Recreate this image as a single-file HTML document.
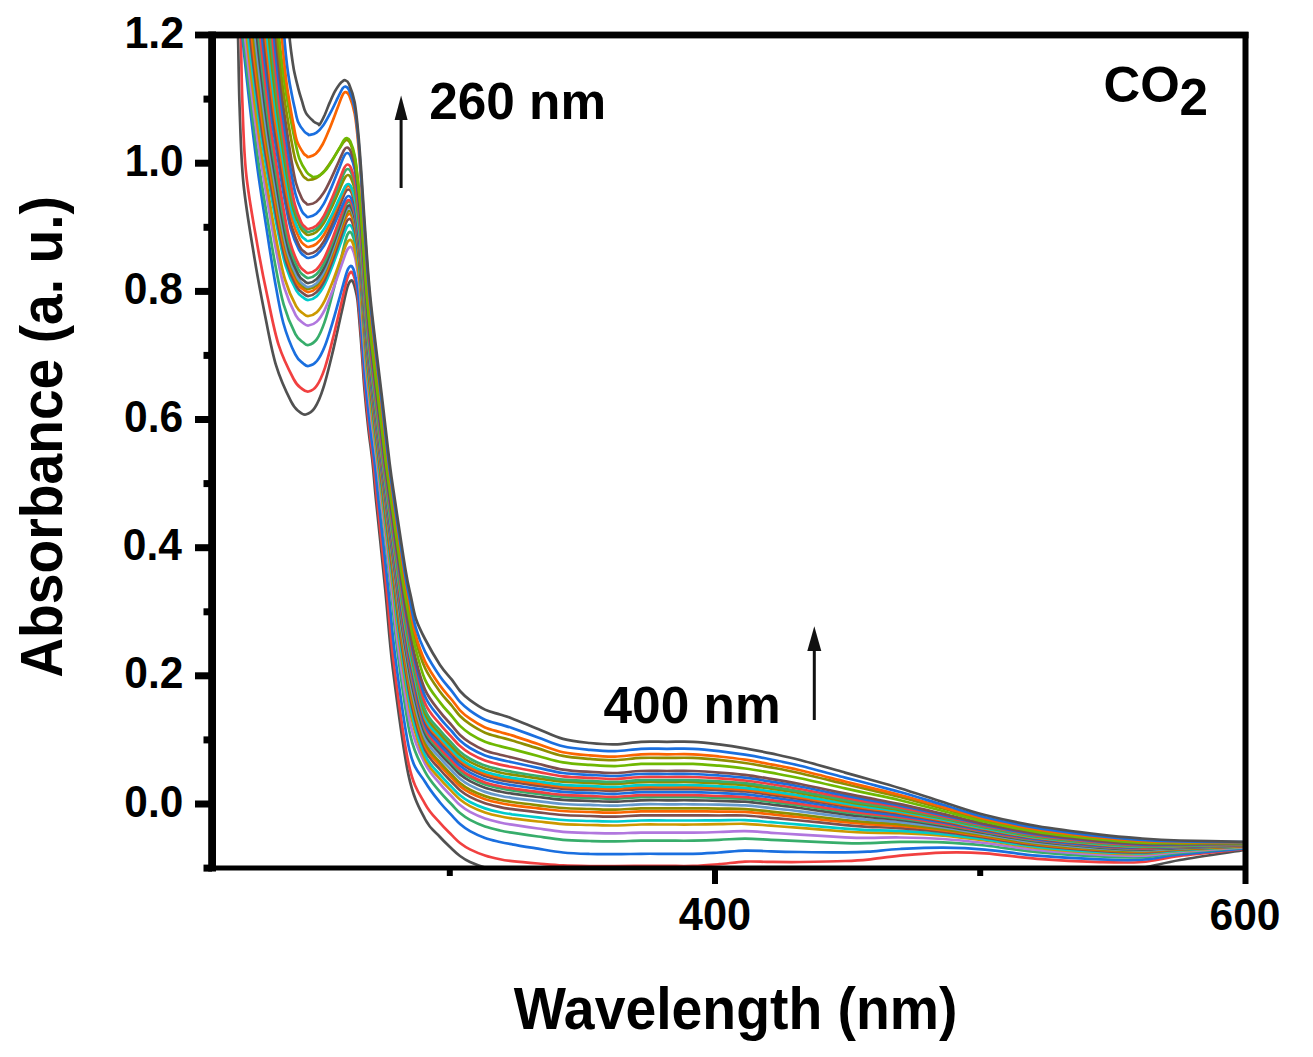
<!DOCTYPE html>
<html><head><meta charset="utf-8"><title>Absorbance</title>
<style>html,body{margin:0;padding:0;background:#fff;width:1313px;height:1057px;overflow:hidden}svg{display:block}</style>
</head><body>
<svg width="1313" height="1057" viewBox="0 0 1313 1057">
<defs><clipPath id="pc"><rect x="212.0" y="35.0" width="1033.5" height="833.0"/></clipPath></defs>
<g clip-path="url(#pc)" fill="none" stroke-width="2.7" stroke-linejoin="round">
<path d="M236.8,5.0 C237.0,10.0 237.5,18.0 238.0,35.0 C238.5,52.0 238.7,82.4 239.6,107.1 C240.5,131.8 240.9,157.7 243.4,183.0 C245.9,208.3 251.0,236.8 254.6,258.9 C258.2,281.0 261.6,298.1 265.1,315.8 C268.7,333.5 271.7,350.9 276.0,365.2 C280.3,379.4 287.0,393.5 290.9,401.2 C294.7,408.9 296.5,409.3 299.0,411.5 C301.5,413.7 303.2,415.1 305.8,414.5 C308.4,413.9 311.9,412.3 314.8,407.8 C317.8,403.3 320.5,396.9 323.4,387.7 C326.4,378.5 329.5,365.4 332.5,352.9 C335.5,340.4 339.0,323.6 341.5,312.7 C344.0,301.7 345.8,292.6 347.4,287.2 C349.0,281.8 350.0,281.2 351.0,280.5 C352.0,279.8 352.8,281.4 353.5,283.0 C354.2,284.6 354.8,287.2 355.5,290.0 C356.2,292.8 356.9,295.0 357.5,300.0 C358.1,305.0 358.7,312.5 359.3,320.0 C359.9,327.5 360.4,333.3 361.3,345.0 C362.2,356.7 363.3,375.8 364.5,390.0 C365.7,404.2 367.1,417.8 368.5,430.0 C369.9,442.2 371.4,451.3 372.6,463.0 C373.9,474.7 373.9,478.8 376.0,500.0 C378.1,521.2 382.5,561.7 385.3,590.0 C388.1,618.3 389.1,639.2 393.0,670.0 C396.9,700.8 403.1,749.8 408.4,774.6 C413.7,799.4 419.7,808.6 425.0,819.0 C430.3,829.4 435.5,832.0 440.0,837.0 C444.5,842.0 448.7,845.8 452.0,849.0 C455.3,852.2 457.0,853.8 460.0,856.0 C463.0,858.2 465.8,860.1 470.0,862.0 C474.2,863.9 480.0,866.0 485.0,867.5 C490.0,869.0 495.5,870.2 500.0,871.0 C504.5,871.8 505.7,872.1 512.0,872.5 C518.3,872.9 529.5,873.2 538.0,873.5 C546.5,873.8 554.3,873.9 563.0,874.0 C571.7,874.1 581.3,874.0 590.0,874.0 C598.7,874.0 606.5,874.0 615.0,874.0 C623.5,874.0 632.3,874.0 641.0,874.0 C649.7,874.0 658.3,874.0 667.0,874.0 C675.7,874.0 684.3,874.0 693.0,874.0 C701.7,874.0 710.3,874.0 719.0,874.0 C727.7,874.0 736.3,874.0 745.0,874.0 C753.7,874.0 761.8,874.0 771.0,874.0 C780.2,874.0 787.7,874.0 800.0,874.0 C812.3,874.0 833.7,874.0 845.0,874.0 C856.3,874.0 858.8,874.0 868.0,874.0 C877.2,874.0 887.5,874.0 900.0,874.0 C912.5,874.0 928.8,874.0 943.0,874.0 C957.2,874.0 969.3,874.0 985.0,874.0 C1000.7,874.0 1017.8,874.0 1037.0,874.0 C1056.2,874.0 1082.5,875.0 1100.0,874.0 C1117.5,873.0 1128.7,870.3 1142.0,868.0 C1155.3,865.7 1162.8,863.0 1180.0,860.0 C1197.2,857.0 1234.2,851.7 1245.0,850.0" stroke="#515151"/>
<path d="M239.6,5.0 C239.8,10.0 240.3,18.7 240.8,35.0 C241.3,51.3 241.5,79.6 242.4,102.7 C243.3,125.9 243.7,150.3 246.2,174.0 C248.7,197.8 253.8,224.5 257.4,245.3 C261.0,266.1 264.3,282.2 267.9,298.8 C271.4,315.4 274.4,331.8 278.7,345.2 C283.0,358.5 289.8,371.8 293.6,379.0 C297.4,386.3 299.2,386.6 301.7,388.6 C304.2,390.7 306.0,392.0 308.5,391.5 C311.0,391.0 314.2,389.5 316.9,385.5 C319.7,381.5 322.2,375.8 325.0,367.6 C327.7,359.4 330.6,347.7 333.4,336.5 C336.2,325.4 339.6,310.4 341.9,300.7 C344.2,290.9 345.9,282.8 347.4,278.0 C348.8,273.2 349.8,272.6 350.7,272.0 C351.7,271.4 352.5,272.9 353.3,274.6 C354.1,276.2 354.8,279.0 355.5,282.0 C356.2,285.1 356.9,287.8 357.5,293.0 C358.2,298.2 358.7,305.3 359.4,313.1 C360.1,320.9 360.6,327.5 361.5,339.6 C362.4,351.6 363.5,370.6 364.8,385.4 C366.1,400.2 367.8,415.5 369.2,428.4 C370.7,441.4 372.2,451.1 373.5,463.0 C374.8,474.9 374.9,479.0 377.1,500.0 C379.2,521.0 383.6,561.3 386.5,588.9 C389.3,616.5 390.3,636.3 394.1,665.7 C397.8,695.0 403.7,742.1 408.9,765.1 C414.0,788.1 419.8,794.1 425.0,803.8 C430.2,813.4 435.5,817.7 440.0,822.9 C444.5,828.2 448.7,832.0 452.0,835.4 C455.3,838.7 457.0,840.6 460.0,843.0 C463.0,845.3 465.8,847.3 470.0,849.4 C474.2,851.5 480.0,853.9 485.0,855.5 C490.0,857.2 495.5,858.3 500.0,859.2 C504.5,860.2 505.7,860.4 512.0,861.1 C518.3,861.8 529.5,862.8 538.0,863.5 C546.5,864.2 554.3,865.0 563.0,865.4 C571.7,865.8 581.3,865.9 590.0,866.0 C598.7,866.1 606.5,866.1 615.0,866.1 C623.5,866.1 632.3,865.9 641.0,865.9 C649.7,865.9 658.3,865.9 667.0,865.9 C675.7,865.9 684.3,866.2 693.0,865.9 C701.7,865.6 710.3,864.9 719.0,864.2 C727.7,863.5 736.3,862.0 745.0,861.6 C753.7,861.2 761.8,861.9 771.0,861.9 C780.2,862.0 787.7,862.1 800.0,862.0 C812.3,861.8 833.7,861.4 845.0,861.0 C856.3,860.6 858.8,860.5 868.0,859.6 C877.2,858.7 887.5,856.8 900.0,855.6 C912.5,854.5 928.8,853.0 943.0,852.6 C957.2,852.2 969.3,852.3 985.0,853.3 C1000.7,854.3 1017.8,857.4 1037.0,858.9 C1056.2,860.3 1082.5,861.6 1100.0,862.1 C1117.5,862.6 1128.7,863.0 1142.0,862.0 C1155.3,861.0 1162.8,858.1 1180.0,856.0 C1197.2,853.8 1234.2,850.2 1245.0,849.0" stroke="#F14040"/>
<path d="M241.1,5.0 C241.3,10.0 241.0,19.5 242.3,35.0 C243.6,50.5 246.5,76.4 248.9,97.9 C251.3,119.4 253.9,142.0 256.9,164.1 C259.8,186.2 263.8,211.0 266.8,230.3 C269.8,249.6 272.0,264.5 274.7,279.9 C277.5,295.4 279.9,310.6 283.3,323.0 C286.8,335.4 291.9,347.7 295.3,354.4 C298.6,361.1 301.0,361.4 303.2,363.4 C305.4,365.3 306.2,366.4 308.5,366.0 C310.8,365.6 314.2,364.3 316.9,361.0 C319.6,357.7 322.2,352.8 324.9,346.0 C327.6,339.2 330.5,329.3 333.3,320.0 C336.1,310.7 339.4,298.2 341.7,290.0 C344.0,281.8 345.7,275.0 347.2,271.0 C348.7,267.0 349.6,266.4 350.6,266.0 C351.6,265.6 352.4,266.8 353.2,268.6 C354.0,270.3 354.7,273.2 355.4,276.4 C356.2,279.7 356.9,283.1 357.6,288.1 C358.3,293.1 358.8,298.7 359.5,306.3 C360.2,313.9 360.8,321.5 361.7,333.8 C362.7,346.1 363.8,364.7 365.2,380.2 C366.6,395.6 368.5,412.7 370.1,426.5 C371.7,440.3 373.3,450.8 374.7,463.0 C376.1,475.2 376.2,479.3 378.5,500.0 C380.7,520.7 385.3,560.8 388.1,587.4 C391.0,613.9 392.0,632.1 395.6,659.4 C399.2,686.6 404.7,730.4 409.6,750.8 C414.5,771.2 419.9,773.1 425.0,781.7 C430.1,790.3 435.5,796.8 440.0,802.5 C444.5,808.1 448.7,812.0 452.0,815.6 C455.3,819.1 457.0,821.4 460.0,824.0 C463.0,826.6 465.8,828.7 470.0,831.1 C474.2,833.4 480.0,836.2 485.0,838.0 C490.0,839.8 495.5,840.9 500.0,842.0 C504.5,843.0 505.7,843.2 512.0,844.3 C518.3,845.5 529.5,847.3 538.0,848.7 C546.5,850.1 554.3,851.7 563.0,852.5 C571.7,853.4 581.3,853.7 590.0,854.0 C598.7,854.3 606.5,854.2 615.0,854.2 C623.5,854.2 632.3,853.9 641.0,853.8 C649.7,853.7 658.3,853.8 667.0,853.8 C675.7,853.8 684.3,854.0 693.0,853.8 C701.7,853.6 710.3,853.0 719.0,852.5 C727.7,852.0 736.3,850.8 745.0,850.6 C753.7,850.4 761.8,851.1 771.0,851.3 C780.2,851.6 787.7,851.8 800.0,852.0 C812.3,852.2 833.7,852.5 845.0,852.4 C856.3,852.4 858.8,852.3 868.0,851.7 C877.2,851.1 887.5,849.7 900.0,849.0 C912.5,848.4 928.8,847.6 943.0,847.7 C957.2,847.8 969.3,848.2 985.0,849.6 C1000.7,850.9 1017.8,854.0 1037.0,855.7 C1056.2,857.3 1082.5,858.8 1100.0,859.4 C1117.5,860.1 1128.7,860.5 1142.0,859.7 C1155.3,858.9 1162.8,856.4 1180.0,854.5 C1197.2,852.6 1234.2,849.3 1245.0,848.3" stroke="#1A6FDF"/>
<path d="M241.9,5.0 C242.1,10.0 241.8,20.2 243.1,35.0 C244.4,49.8 247.3,73.8 249.7,93.9 C252.1,114.1 254.6,135.2 257.5,155.9 C260.4,176.6 264.4,199.8 267.3,217.9 C270.3,236.0 272.4,249.9 275.2,264.4 C277.9,278.9 280.3,293.1 283.7,304.7 C287.0,316.3 292.2,327.8 295.4,334.1 C298.7,340.5 301.1,340.7 303.3,342.5 C305.4,344.3 306.3,345.5 308.5,345.0 C310.7,344.5 314.0,343.1 316.7,339.4 C319.4,335.6 321.8,330.1 324.5,322.4 C327.2,314.7 330.0,303.6 332.7,293.0 C335.5,282.5 338.7,268.3 340.9,259.1 C343.2,249.9 344.8,242.2 346.3,237.7 C347.7,233.1 348.5,232.5 349.5,232.0 C350.6,231.5 351.4,232.7 352.4,234.8 C353.4,236.9 354.4,240.4 355.3,244.6 C356.2,248.8 357.0,253.5 357.7,260.2 C358.5,266.8 359.1,274.9 359.8,284.5 C360.6,294.1 361.3,304.1 362.3,318.0 C363.4,331.8 364.4,350.4 366.0,367.8 C367.6,385.2 370.1,406.7 371.9,422.6 C373.7,438.4 375.4,450.1 376.8,463.0 C378.3,475.9 378.5,479.6 380.7,500.0 C383.0,520.4 387.6,560.0 390.4,585.2 C393.2,610.5 394.2,626.6 397.5,651.7 C400.8,676.7 405.7,715.4 410.3,735.4 C414.9,755.4 420.1,762.2 425.0,771.6 C429.9,781.0 435.5,786.3 440.0,791.9 C444.5,797.4 448.7,801.3 452.0,804.8 C455.3,808.3 457.0,810.5 460.0,813.0 C463.0,815.5 465.8,817.6 470.0,819.9 C474.2,822.1 480.0,824.8 485.0,826.6 C490.0,828.3 495.5,829.5 500.0,830.5 C504.5,831.5 505.7,831.7 512.0,832.7 C518.3,833.7 529.5,835.3 538.0,836.5 C546.5,837.7 554.3,839.0 563.0,839.8 C571.7,840.5 581.3,840.7 590.0,841.0 C598.7,841.2 606.5,841.4 615.0,841.3 C623.5,841.3 632.3,840.8 641.0,840.7 C649.7,840.6 658.3,840.7 667.0,840.7 C675.7,840.7 684.3,840.8 693.0,840.7 C701.7,840.5 710.3,840.2 719.0,839.8 C727.7,839.5 736.3,838.6 745.0,838.6 C753.7,838.6 761.8,839.4 771.0,839.9 C780.2,840.3 787.7,840.7 800.0,841.2 C812.3,841.8 833.7,842.7 845.0,843.1 C856.3,843.4 858.8,843.4 868.0,843.2 C877.2,843.0 887.5,842.0 900.0,841.9 C912.5,841.8 928.8,841.7 943.0,842.3 C957.2,842.9 969.3,843.9 985.0,845.5 C1000.7,847.2 1017.8,850.3 1037.0,852.2 C1056.2,854.0 1082.5,855.7 1100.0,856.5 C1117.5,857.4 1128.7,857.8 1142.0,857.2 C1155.3,856.6 1162.8,854.4 1180.0,852.8 C1197.2,851.2 1234.2,848.4 1245.0,847.6" stroke="#37AD6B"/>
<path d="M243.6,5.0 C243.8,10.0 243.6,20.8 244.8,35.0 C246.1,49.2 248.9,71.3 251.2,90.2 C253.5,109.1 256.0,128.9 258.8,148.3 C261.7,167.7 265.5,189.4 268.4,206.4 C271.3,223.3 273.4,236.4 276.0,250.0 C278.7,263.5 281.0,276.8 284.3,287.7 C287.6,298.6 292.6,309.4 295.8,315.3 C298.9,321.2 301.3,321.5 303.4,323.2 C305.5,324.9 306.3,325.8 308.5,325.5 C310.7,325.2 314.1,324.2 316.8,321.6 C319.5,319.0 322.0,315.2 324.7,309.8 C327.4,304.4 330.2,296.7 333.0,289.4 C335.7,282.1 339.0,272.3 341.3,265.8 C343.6,259.4 345.2,254.1 346.7,250.9 C348.1,247.8 349.0,247.2 350.0,247.0 C351.0,246.8 351.9,247.8 352.7,249.7 C353.6,251.6 354.5,254.8 355.4,258.6 C356.2,262.4 356.9,267.3 357.7,272.5 C358.4,277.7 359.0,281.9 359.8,290.0 C360.5,298.0 361.2,307.6 362.2,320.8 C363.3,333.9 364.3,352.0 365.9,369.0 C367.5,385.9 370.1,406.9 371.9,422.6 C373.8,438.3 375.5,450.1 377.0,463.0 C378.6,475.9 378.8,479.7 381.2,500.0 C383.5,520.3 388.3,559.9 391.1,584.6 C394.0,609.2 395.1,624.6 398.4,648.1 C401.7,671.7 406.3,706.6 410.8,725.9 C415.2,745.1 420.1,753.9 425.0,763.6 C429.9,773.3 435.5,778.3 440.0,783.9 C444.5,789.4 448.7,793.3 452.0,796.8 C455.3,800.3 457.0,802.5 460.0,805.0 C463.0,807.5 465.8,809.6 470.0,811.9 C474.2,814.1 480.0,816.8 485.0,818.6 C490.0,820.3 495.5,821.5 500.0,822.5 C504.5,823.5 505.7,823.7 512.0,824.7 C518.3,825.7 529.5,827.3 538.0,828.5 C546.5,829.7 554.3,831.0 563.0,831.8 C571.7,832.5 581.3,832.7 590.0,833.0 C598.7,833.2 606.5,833.5 615.0,833.4 C623.5,833.3 632.3,832.7 641.0,832.6 C649.7,832.5 658.3,832.6 667.0,832.6 C675.7,832.6 684.3,832.7 693.0,832.6 C701.7,832.5 710.3,832.3 719.0,832.0 C727.7,831.8 736.3,831.1 745.0,831.2 C753.7,831.3 761.8,832.2 771.0,832.8 C780.2,833.4 787.7,833.8 800.0,834.6 C812.3,835.3 833.7,836.7 845.0,837.3 C856.3,837.9 858.8,837.9 868.0,837.9 C877.2,838.0 887.5,837.3 900.0,837.5 C912.5,837.7 928.8,838.1 943.0,839.0 C957.2,839.9 969.3,841.2 985.0,843.0 C1000.7,844.9 1017.8,848.1 1037.0,850.0 C1056.2,852.0 1082.5,853.8 1100.0,854.7 C1117.5,855.7 1128.7,856.2 1142.0,855.7 C1155.3,855.2 1162.8,853.3 1180.0,851.8 C1197.2,850.4 1234.2,847.9 1245.0,847.1" stroke="#B177DE"/>
<path d="M245.3,5.0 C245.5,10.0 245.3,21.1 246.5,35.0 C247.8,48.9 250.5,70.1 252.7,88.4 C255.0,106.7 257.4,125.9 260.2,144.6 C263.0,163.3 266.7,184.4 269.5,200.8 C272.3,217.2 274.3,229.8 276.9,242.9 C279.5,256.1 281.8,268.9 285.0,279.5 C288.2,290.0 293.0,300.5 296.1,306.2 C299.2,311.9 301.5,312.1 303.5,313.8 C305.6,315.4 306.3,316.3 308.5,316.0 C310.7,315.7 314.1,314.7 316.8,312.2 C319.4,309.7 321.9,306.0 324.6,300.8 C327.3,295.6 330.1,288.1 332.9,281.0 C335.6,273.9 338.8,264.4 341.1,258.2 C343.4,252.0 345.0,246.8 346.5,243.8 C347.9,240.8 348.8,240.2 349.8,240.0 C350.8,239.8 351.7,240.7 352.6,242.7 C353.5,244.8 354.5,248.1 355.3,252.1 C356.2,256.1 357.0,261.5 357.7,266.8 C358.5,272.1 359.1,275.7 359.8,283.9 C360.6,292.0 361.4,302.4 362.4,315.9 C363.5,329.3 364.5,347.2 366.2,364.8 C367.9,382.3 370.6,404.7 372.6,421.1 C374.5,437.5 376.3,449.9 377.9,463.0 C379.5,476.1 379.8,479.9 382.2,500.0 C384.6,520.1 389.4,559.5 392.3,583.5 C395.2,607.5 396.3,621.7 399.5,643.8 C402.6,666.0 407.0,697.1 411.2,716.4 C415.5,735.6 420.2,748.7 425.0,759.2 C429.8,769.6 435.5,773.5 440.0,778.9 C444.5,784.3 448.7,788.1 452.0,791.6 C455.3,795.0 457.0,797.0 460.0,799.5 C463.0,801.9 465.8,804.0 470.0,806.1 C474.2,808.3 480.0,810.8 485.0,812.5 C490.0,814.2 495.5,815.4 500.0,816.3 C504.5,817.3 505.7,817.5 512.0,818.4 C518.3,819.2 529.5,820.5 538.0,821.5 C546.5,822.4 554.3,823.5 563.0,824.1 C571.7,824.6 581.3,824.7 590.0,825.0 C598.7,825.2 606.5,825.6 615.0,825.5 C623.5,825.4 632.3,824.7 641.0,824.5 C649.7,824.4 658.3,824.5 667.0,824.5 C675.7,824.5 684.3,824.6 693.0,824.5 C701.7,824.5 710.3,824.4 719.0,824.2 C727.7,824.1 736.3,823.6 745.0,823.8 C753.7,824.1 761.8,825.0 771.0,825.7 C780.2,826.4 787.7,827.0 800.0,827.9 C812.3,828.9 833.7,830.7 845.0,831.5 C856.3,832.3 858.8,832.4 868.0,832.7 C877.2,832.9 887.5,832.6 900.0,833.1 C912.5,833.6 928.8,834.5 943.0,835.7 C957.2,837.0 969.3,838.5 985.0,840.5 C1000.7,842.6 1017.8,845.8 1037.0,847.9 C1056.2,850.0 1082.5,851.9 1100.0,852.9 C1117.5,854.0 1128.7,854.5 1142.0,854.1 C1155.3,853.8 1162.8,852.1 1180.0,850.8 C1197.2,849.6 1234.2,847.3 1245.0,846.6" stroke="#CC9900"/>
<path d="M247.1,5.0 C247.2,10.0 247.0,21.6 248.2,35.0 C249.5,48.4 252.1,68.1 254.3,85.3 C256.5,102.6 258.8,120.7 261.5,138.4 C264.2,156.0 267.8,175.9 270.5,191.3 C273.3,206.8 275.3,218.7 277.8,231.1 C280.3,243.5 282.5,255.6 285.6,265.6 C288.7,275.5 293.4,285.3 296.4,290.7 C299.5,296.1 301.7,296.3 303.7,297.9 C305.7,299.4 306.3,300.3 308.5,300.0 C310.7,299.7 314.0,298.8 316.7,296.2 C319.3,293.8 321.8,290.1 324.4,285.0 C327.1,279.9 329.9,272.5 332.6,265.5 C335.3,258.5 338.5,249.1 340.8,243.0 C343.0,236.9 344.6,231.8 346.1,228.8 C347.5,225.8 348.3,225.2 349.3,225.0 C350.4,224.8 351.3,225.7 352.3,227.8 C353.2,230.0 354.4,233.6 355.3,238.0 C356.2,242.5 357.0,248.3 357.8,254.5 C358.6,260.6 359.2,265.6 360.0,274.8 C360.8,283.9 361.6,295.2 362.7,309.4 C363.8,323.6 364.8,341.5 366.5,359.8 C368.3,378.2 371.3,402.4 373.3,419.6 C375.3,436.8 377.1,449.6 378.7,463.0 C380.3,476.4 380.6,480.0 383.0,500.0 C385.4,520.0 390.2,559.2 393.1,582.7 C395.9,606.3 397.0,619.8 400.1,641.3 C403.1,662.8 407.3,692.7 411.5,711.6 C415.6,730.5 420.2,744.5 425.0,755.0 C429.8,765.5 435.5,769.3 440.0,774.7 C444.5,780.1 448.7,784.0 452.0,787.4 C455.3,790.9 457.0,792.9 460.0,795.3 C463.0,797.8 465.8,799.8 470.0,802.0 C474.2,804.2 480.0,806.7 485.0,808.4 C490.0,810.1 495.5,811.3 500.0,812.2 C504.5,813.2 505.7,813.4 512.0,814.3 C518.3,815.1 529.5,816.4 538.0,817.4 C546.5,818.4 554.3,819.5 563.0,820.0 C571.7,820.6 581.3,820.7 590.0,821.0 C598.7,821.2 606.5,821.6 615.0,821.5 C623.5,821.4 632.3,820.6 641.0,820.5 C649.7,820.3 658.3,820.5 667.0,820.5 C675.7,820.5 684.3,820.5 693.0,820.5 C701.7,820.5 710.3,820.4 719.0,820.3 C727.7,820.3 736.3,819.8 745.0,820.1 C753.7,820.4 761.8,821.4 771.0,822.2 C780.2,822.9 787.7,823.6 800.0,824.6 C812.3,825.7 833.7,827.8 845.0,828.7 C856.3,829.6 858.8,829.7 868.0,830.1 C877.2,830.4 887.5,830.3 900.0,830.9 C912.5,831.6 928.8,832.7 943.0,834.1 C957.2,835.5 969.3,837.2 985.0,839.3 C1000.7,841.4 1017.8,844.7 1037.0,846.8 C1056.2,849.0 1082.5,850.9 1100.0,852.0 C1117.5,853.1 1128.7,853.7 1142.0,853.4 C1155.3,853.1 1162.8,851.5 1180.0,850.3 C1197.2,849.2 1234.2,847.0 1245.0,846.4" stroke="#00CBCC"/>
<path d="M248.8,5.0 C249.0,10.0 248.8,21.7 250.0,35.0 C251.1,48.3 253.7,67.6 255.8,84.6 C258.0,101.6 260.2,119.4 262.8,136.8 C265.5,154.2 269.0,173.8 271.6,189.0 C274.3,204.2 276.2,216.0 278.6,228.1 C281.1,240.3 283.2,252.3 286.3,262.1 C289.3,271.9 293.9,281.6 296.8,286.9 C299.7,292.2 301.9,292.4 303.8,293.9 C305.8,295.4 306.4,296.3 308.5,296.0 C310.6,295.7 314.0,294.7 316.6,292.1 C319.3,289.6 321.7,285.9 324.4,280.6 C327.0,275.3 329.8,267.8 332.5,260.6 C335.2,253.4 338.4,243.8 340.6,237.5 C342.9,231.2 344.5,225.9 345.9,222.9 C347.3,219.8 348.1,219.2 349.2,219.0 C350.2,218.8 351.1,219.6 352.1,221.9 C353.1,224.1 354.3,227.8 355.3,232.4 C356.2,237.0 357.0,243.3 357.8,249.5 C358.6,255.8 359.2,260.7 360.1,270.1 C360.9,279.5 361.7,291.3 362.8,305.8 C363.9,320.2 364.9,338.0 366.8,356.8 C368.6,375.6 371.7,400.9 373.8,418.6 C375.9,436.3 377.6,449.4 379.3,463.0 C380.9,476.6 381.3,480.2 383.7,500.0 C386.1,519.8 391.0,559.0 393.8,582.1 C396.7,605.1 397.8,618.0 400.8,638.6 C403.7,659.2 407.7,687.1 411.8,705.7 C415.8,724.2 420.3,739.1 425.0,749.8 C429.7,760.4 435.5,764.1 440.0,769.5 C444.5,775.0 448.7,778.8 452.0,782.2 C455.3,785.7 457.0,787.7 460.0,790.2 C463.0,792.6 465.8,794.7 470.0,796.9 C474.2,799.1 480.0,801.6 485.0,803.3 C490.0,805.0 495.5,806.1 500.0,807.1 C504.5,808.1 505.7,808.3 512.0,809.2 C518.3,810.0 529.5,811.4 538.0,812.3 C546.5,813.3 554.3,814.4 563.0,815.0 C571.7,815.6 581.3,815.7 590.0,816.0 C598.7,816.2 606.5,816.7 615.0,816.6 C623.5,816.5 632.3,815.6 641.0,815.4 C649.7,815.2 658.3,815.4 667.0,815.4 C675.7,815.4 684.3,815.4 693.0,815.4 C701.7,815.4 710.3,815.4 719.0,815.5 C727.7,815.5 736.3,815.1 745.0,815.5 C753.7,815.9 761.8,817.0 771.0,817.8 C780.2,818.6 787.7,819.3 800.0,820.5 C812.3,821.7 833.7,824.0 845.0,825.1 C856.3,826.1 858.8,826.3 868.0,826.8 C877.2,827.3 887.5,827.3 900.0,828.2 C912.5,829.1 928.8,830.4 943.0,832.0 C957.2,833.6 969.3,835.5 985.0,837.7 C1000.7,840.0 1017.8,843.3 1037.0,845.5 C1056.2,847.7 1082.5,849.8 1100.0,850.9 C1117.5,852.1 1128.7,852.6 1142.0,852.4 C1155.3,852.2 1162.8,850.7 1180.0,849.7 C1197.2,848.6 1234.2,846.7 1245.0,846.1" stroke="#7D4E4E"/>
<path d="M250.5,5.0 C250.7,10.0 250.5,21.9 251.7,35.0 C252.8,48.1 255.3,67.1 257.3,83.8 C259.4,100.5 261.6,118.1 264.2,135.2 C266.7,152.4 270.1,171.6 272.7,186.6 C275.3,201.6 277.1,213.2 279.5,225.2 C281.9,237.2 284.0,249.0 286.9,258.6 C289.8,268.2 294.3,277.8 297.1,283.0 C300.0,288.2 302.1,288.4 304.0,289.9 C305.8,291.4 306.4,292.3 308.5,292.0 C310.6,291.7 314.0,290.7 316.6,288.1 C319.2,285.5 321.7,281.7 324.3,276.4 C326.9,271.1 329.7,263.4 332.4,256.1 C335.1,248.8 338.3,239.1 340.5,232.7 C342.7,226.3 344.3,221.0 345.8,217.9 C347.2,214.8 348.0,214.2 349.0,214.0 C350.0,213.8 351.0,214.6 352.0,216.9 C353.0,219.2 354.3,223.0 355.2,227.8 C356.2,232.5 357.0,239.0 357.8,245.4 C358.6,251.8 359.3,256.7 360.1,266.2 C361.0,275.8 361.8,288.1 362.9,302.8 C364.0,317.5 365.0,335.2 366.9,354.3 C368.8,373.5 372.0,399.6 374.1,417.7 C376.3,435.8 378.1,449.3 379.8,463.0 C381.5,476.7 381.8,480.3 384.2,500.0 C386.7,519.7 391.6,558.8 394.4,581.5 C397.3,604.2 398.4,616.5 401.3,636.4 C404.2,656.3 408.0,682.7 412.0,700.9 C416.0,719.1 420.3,734.8 425.0,745.6 C429.7,756.3 435.5,760.0 440.0,765.4 C444.5,770.8 448.7,774.7 452.0,778.1 C455.3,781.6 457.0,783.6 460.0,786.1 C463.0,788.5 465.8,790.6 470.0,792.8 C474.2,795.0 480.0,797.5 485.0,799.2 C490.0,800.9 495.5,802.1 500.0,803.0 C504.5,804.0 505.7,804.2 512.0,805.1 C518.3,806.0 529.5,807.3 538.0,808.3 C546.5,809.3 554.3,810.4 563.0,811.0 C571.7,811.6 581.3,811.7 590.0,812.0 C598.7,812.2 606.5,812.7 615.0,812.6 C623.5,812.5 632.3,811.6 641.0,811.4 C649.7,811.2 658.3,811.4 667.0,811.4 C675.7,811.4 684.3,811.4 693.0,811.4 C701.7,811.4 710.3,811.5 719.0,811.6 C727.7,811.6 736.3,811.4 745.0,811.8 C753.7,812.3 761.8,813.4 771.0,814.2 C780.2,815.1 787.7,815.8 800.0,817.2 C812.3,818.5 833.7,821.0 845.0,822.2 C856.3,823.3 858.8,823.5 868.0,824.2 C877.2,824.8 887.5,825.0 900.0,826.0 C912.5,827.0 928.8,828.6 943.0,830.4 C957.2,832.1 969.3,834.1 985.0,836.5 C1000.7,838.8 1017.8,842.2 1037.0,844.4 C1056.2,846.7 1082.5,848.8 1100.0,850.0 C1117.5,851.2 1128.7,851.8 1142.0,851.7 C1155.3,851.5 1162.8,850.2 1180.0,849.2 C1197.2,848.2 1234.2,846.4 1245.0,845.9" stroke="#FB6501"/>
<path d="M252.2,5.0 C252.4,10.0 252.3,22.0 253.4,35.0 C254.5,48.0 256.9,66.7 258.9,83.3 C260.9,99.8 263.0,117.1 265.5,134.1 C268.0,151.0 271.3,170.0 273.8,184.9 C276.3,199.7 278.1,211.1 280.4,223.0 C282.7,234.8 284.7,246.5 287.6,256.0 C290.4,265.5 294.7,274.9 297.5,280.1 C300.2,285.3 302.3,285.5 304.1,287.0 C305.9,288.4 306.4,289.3 308.5,289.0 C310.6,288.7 314.0,287.7 316.6,285.1 C319.2,282.5 321.6,278.7 324.3,273.4 C326.9,268.1 329.7,260.4 332.3,253.1 C335.0,245.8 338.2,236.1 340.4,229.7 C342.7,223.3 344.3,218.0 345.7,214.9 C347.1,211.8 347.9,211.2 348.9,211.0 C350.0,210.8 350.9,211.6 351.9,213.9 C353.0,216.2 354.2,220.1 355.2,224.9 C356.2,229.8 357.0,236.5 357.8,243.0 C358.7,249.4 359.3,254.1 360.2,263.8 C361.0,273.4 361.8,286.0 363.0,300.8 C364.1,315.7 365.1,333.3 367.0,352.6 C368.9,372.0 372.2,398.7 374.4,417.1 C376.6,435.5 378.4,449.2 380.1,463.0 C381.8,476.8 382.2,480.3 384.6,500.0 C387.1,519.7 392.0,558.6 394.9,581.1 C397.7,603.5 398.8,615.4 401.7,634.7 C404.6,654.1 408.3,679.4 412.2,697.3 C416.1,715.3 420.4,731.6 425.0,742.4 C429.6,753.3 435.5,756.9 440.0,762.3 C444.5,767.7 448.7,771.6 452.0,775.0 C455.3,778.5 457.0,780.5 460.0,783.0 C463.0,785.4 465.8,787.5 470.0,789.7 C474.2,791.9 480.0,794.4 485.0,796.1 C490.0,797.9 495.5,799.0 500.0,800.0 C504.5,800.9 505.7,801.1 512.0,802.0 C518.3,802.9 529.5,804.3 538.0,805.3 C546.5,806.3 554.3,807.4 563.0,808.0 C571.7,808.6 581.3,808.7 590.0,809.0 C598.7,809.2 606.5,809.7 615.0,809.6 C623.5,809.5 632.3,808.6 641.0,808.4 C649.7,808.1 658.3,808.4 667.0,808.4 C675.7,808.4 684.3,808.3 693.0,808.4 C701.7,808.4 710.3,808.5 719.0,808.6 C727.7,808.8 736.3,808.6 745.0,809.1 C753.7,809.6 761.8,810.7 771.0,811.6 C780.2,812.5 787.7,813.3 800.0,814.7 C812.3,816.1 833.7,818.8 845.0,820.0 C856.3,821.3 858.8,821.5 868.0,822.2 C877.2,822.9 887.5,823.2 900.0,824.3 C912.5,825.5 928.8,827.3 943.0,829.1 C957.2,831.0 969.3,833.1 985.0,835.5 C1000.7,838.0 1017.8,841.3 1037.0,843.6 C1056.2,845.9 1082.5,848.1 1100.0,849.4 C1117.5,850.6 1128.7,851.2 1142.0,851.1 C1155.3,851.0 1162.8,849.7 1180.0,848.8 C1197.2,847.9 1234.2,846.2 1245.0,845.7" stroke="#8E8E00"/>
<path d="M253.9,5.0 C254.1,10.0 254.0,22.0 255.1,35.0 C256.2,48.0 258.5,66.5 260.4,82.9 C262.4,99.3 264.4,116.5 266.8,133.3 C269.2,150.1 272.4,169.0 274.8,183.7 C277.3,198.4 279.0,209.7 281.3,221.5 C283.5,233.2 285.4,244.8 288.2,254.2 C291.0,263.7 295.1,273.1 297.8,278.2 C300.5,283.3 302.4,283.5 304.2,285.0 C306.0,286.5 306.4,287.3 308.5,287.0 C310.6,286.7 313.9,285.7 316.6,283.1 C319.2,280.4 321.6,276.6 324.2,271.2 C326.8,265.8 329.6,258.0 332.3,250.7 C335.0,243.3 338.1,233.4 340.4,227.0 C342.6,220.5 344.2,215.1 345.6,211.9 C347.0,208.8 347.8,208.2 348.8,208.0 C349.9,207.8 350.8,208.6 351.9,210.9 C352.9,213.3 354.2,217.2 355.2,222.1 C356.2,227.1 357.0,234.0 357.9,240.5 C358.7,247.0 359.3,251.3 360.2,261.0 C361.1,270.6 361.9,283.6 363.1,298.6 C364.2,313.5 365.2,331.0 367.2,350.7 C369.1,370.3 372.5,397.7 374.7,416.4 C377.0,435.2 378.8,449.1 380.5,463.0 C382.3,476.9 382.6,480.4 385.1,500.0 C387.6,519.6 392.6,558.5 395.4,580.6 C398.3,602.7 399.4,613.9 402.2,632.6 C405.0,651.3 408.6,675.0 412.4,692.6 C416.2,710.2 420.4,727.1 425.0,738.0 C429.6,748.9 435.5,752.5 440.0,757.9 C444.5,763.4 448.7,767.2 452.0,770.7 C455.3,774.1 457.0,776.2 460.0,778.7 C463.0,781.1 465.8,783.2 470.0,785.4 C474.2,787.6 480.0,790.2 485.0,791.9 C490.0,793.6 495.5,794.8 500.0,795.7 C504.5,796.7 505.7,796.9 512.0,797.8 C518.3,798.7 529.5,800.1 538.0,801.1 C546.5,802.2 554.3,803.3 563.0,804.0 C571.7,804.6 581.3,804.7 590.0,804.9 C598.7,805.2 606.5,805.8 615.0,805.7 C623.5,805.6 632.3,804.5 641.0,804.3 C649.7,804.1 658.3,804.3 667.0,804.3 C675.7,804.3 684.3,804.2 693.0,804.3 C701.7,804.4 710.3,804.6 719.0,804.7 C727.7,804.9 736.3,804.8 745.0,805.4 C753.7,805.9 761.8,807.1 771.0,808.1 C780.2,809.1 787.7,809.8 800.0,811.4 C812.3,812.9 833.7,815.8 845.0,817.1 C856.3,818.5 858.8,818.7 868.0,819.6 C877.2,820.4 887.5,820.8 900.0,822.2 C912.5,823.5 928.8,825.5 943.0,827.5 C957.2,829.5 969.3,831.8 985.0,834.3 C1000.7,836.8 1017.8,840.2 1037.0,842.6 C1056.2,844.9 1082.5,847.2 1100.0,848.5 C1117.5,849.8 1128.7,850.3 1142.0,850.3 C1155.3,850.3 1162.8,849.1 1180.0,848.3 C1197.2,847.5 1234.2,845.9 1245.0,845.4" stroke="#6699CC"/>
<path d="M255.6,5.0 C255.8,10.0 255.7,22.1 256.8,35.0 C257.9,47.9 260.1,66.0 262.0,82.1 C263.9,98.2 265.8,115.2 268.2,131.7 C270.5,148.3 273.6,166.9 275.9,181.3 C278.3,195.8 280.0,206.9 282.1,218.5 C284.3,230.1 286.2,241.5 288.9,250.8 C291.5,260.1 295.6,269.3 298.2,274.3 C300.7,279.4 302.6,279.6 304.4,281.0 C306.1,282.5 306.5,283.3 308.5,283.0 C310.5,282.7 313.9,281.7 316.6,279.1 C319.2,276.5 321.6,272.8 324.2,267.5 C326.8,262.2 329.6,254.6 332.2,247.3 C334.9,240.1 338.1,230.4 340.3,224.1 C342.5,217.8 344.1,212.5 345.5,209.4 C346.9,206.3 347.7,205.7 348.8,205.5 C349.8,205.3 350.7,206.1 351.8,208.4 C352.9,210.8 354.2,214.8 355.2,219.8 C356.2,224.8 357.0,232.0 357.9,238.4 C358.7,244.9 359.4,248.8 360.2,258.4 C361.1,268.1 362.0,281.4 363.2,296.5 C364.3,311.5 365.3,328.9 367.3,348.8 C369.3,368.7 372.8,396.7 375.0,415.8 C377.3,434.8 379.2,449.0 380.9,463.0 C382.7,477.0 383.1,480.5 385.6,500.0 C388.1,519.5 393.1,558.3 396.0,580.0 C398.9,601.8 400.0,612.5 402.7,630.5 C405.5,648.5 408.9,670.6 412.6,687.8 C416.3,705.0 420.4,722.6 425.0,733.6 C429.6,744.6 435.5,748.1 440.0,753.6 C444.5,759.0 448.7,762.9 452.0,766.3 C455.3,769.8 457.0,771.9 460.0,774.4 C463.0,776.8 465.8,778.9 470.0,781.1 C474.2,783.4 480.0,785.9 485.0,787.7 C490.0,789.4 495.5,790.5 500.0,791.5 C504.5,792.5 505.7,792.7 512.0,793.6 C518.3,794.5 529.5,796.0 538.0,797.0 C546.5,798.1 554.3,799.3 563.0,799.9 C571.7,800.6 581.3,800.6 590.0,800.9 C598.7,801.2 606.5,801.8 615.0,801.7 C623.5,801.6 632.3,800.5 641.0,800.3 C649.7,800.0 658.3,800.3 667.0,800.3 C675.7,800.3 684.3,800.2 693.0,800.3 C701.7,800.4 710.3,800.6 719.0,800.8 C727.7,801.1 736.3,801.1 745.0,801.7 C753.7,802.3 761.8,803.5 771.0,804.5 C780.2,805.6 787.7,806.4 800.0,808.0 C812.3,809.7 833.7,812.8 845.0,814.3 C856.3,815.8 858.8,816.0 868.0,817.0 C877.2,817.9 887.5,818.5 900.0,820.0 C912.5,821.4 928.8,823.7 943.0,825.8 C957.2,828.0 969.3,830.4 985.0,833.0 C1000.7,835.7 1017.8,839.1 1037.0,841.5 C1056.2,843.9 1082.5,846.2 1100.0,847.6 C1117.5,848.9 1128.7,849.5 1142.0,849.6 C1155.3,849.6 1162.8,848.5 1180.0,847.8 C1197.2,847.1 1234.2,845.6 1245.0,845.2" stroke="#515151"/>
<path d="M257.3,5.0 C257.5,10.0 257.5,22.3 258.5,35.0 C259.5,47.7 261.7,65.4 263.5,81.2 C265.3,97.0 267.2,113.6 269.5,129.8 C271.8,146.0 274.8,164.2 277.0,178.4 C279.2,192.5 280.9,203.5 283.0,214.8 C285.1,226.2 286.9,237.3 289.5,246.4 C292.1,255.5 296.0,264.6 298.5,269.5 C301.0,274.4 302.8,274.6 304.5,276.1 C306.2,277.5 306.5,278.3 308.5,278.0 C310.5,277.7 313.9,276.7 316.5,274.2 C319.1,271.7 321.5,268.0 324.2,262.8 C326.8,257.6 329.5,250.1 332.2,243.0 C334.9,235.9 338.0,226.4 340.2,220.2 C342.4,214.0 344.0,208.8 345.4,205.8 C346.8,202.8 347.6,202.1 348.6,202.0 C349.7,201.9 350.6,202.6 351.7,205.0 C352.8,207.4 354.2,211.4 355.2,216.5 C356.2,221.6 357.0,229.0 357.9,235.6 C358.7,242.1 359.4,245.9 360.3,255.7 C361.2,265.5 362.0,279.1 363.2,294.3 C364.4,309.5 365.4,326.9 367.4,347.0 C369.4,367.1 373.0,395.8 375.3,415.2 C377.6,434.5 379.5,448.9 381.3,463.0 C383.1,477.1 383.5,480.6 386.0,500.0 C388.5,519.4 393.6,558.1 396.4,579.6 C399.3,601.1 400.4,611.4 403.1,628.9 C405.9,646.3 409.2,667.4 412.8,684.3 C416.5,701.2 420.5,719.3 425.0,730.3 C429.5,741.3 435.5,744.8 440.0,750.3 C444.5,755.8 448.7,759.6 452.0,763.1 C455.3,766.6 457.0,768.7 460.0,771.1 C463.0,773.6 465.8,775.7 470.0,777.9 C474.2,780.2 480.0,782.8 485.0,784.5 C490.0,786.2 495.5,787.3 500.0,788.3 C504.5,789.3 505.7,789.5 512.0,790.5 C518.3,791.4 529.5,792.8 538.0,793.9 C546.5,795.0 554.3,796.2 563.0,796.9 C571.7,797.6 581.3,797.6 590.0,797.9 C598.7,798.3 606.5,798.9 615.0,798.8 C623.5,798.6 632.3,797.5 641.0,797.2 C649.7,797.0 658.3,797.2 667.0,797.2 C675.7,797.2 684.3,797.1 693.0,797.2 C701.7,797.4 710.3,797.6 719.0,797.9 C727.7,798.2 736.3,798.3 745.0,798.9 C753.7,799.6 761.8,800.8 771.0,801.9 C780.2,803.0 787.7,803.8 800.0,805.5 C812.3,807.3 833.7,810.5 845.0,812.1 C856.3,813.7 858.8,814.0 868.0,815.0 C877.2,816.0 887.5,816.7 900.0,818.3 C912.5,819.9 928.8,822.3 943.0,824.6 C957.2,826.9 969.3,829.4 985.0,832.1 C1000.7,834.8 1017.8,838.2 1037.0,840.7 C1056.2,843.1 1082.5,845.5 1100.0,846.9 C1117.5,848.3 1128.7,848.9 1142.0,849.0 C1155.3,849.1 1162.8,848.1 1180.0,847.4 C1197.2,846.8 1234.2,845.4 1245.0,845.0" stroke="#37AD6B"/>
<path d="M259.0,5.0 C259.2,10.0 259.2,22.5 260.2,35.0 C261.2,47.5 263.3,64.8 265.0,80.2 C266.8,95.7 268.7,112.0 270.8,127.8 C273.0,143.7 275.9,161.5 278.1,175.4 C280.2,189.3 281.9,200.0 283.9,211.1 C285.9,222.2 287.7,233.1 290.1,242.1 C292.6,251.0 296.4,259.8 298.8,264.7 C301.3,269.5 303.0,269.7 304.6,271.1 C306.2,272.5 306.5,273.3 308.5,273.0 C310.5,272.7 313.9,271.8 316.5,269.4 C319.1,266.9 321.5,263.4 324.1,258.4 C326.7,253.4 329.5,246.2 332.2,239.4 C334.8,232.6 338.0,223.5 340.2,217.5 C342.4,211.6 344.0,206.6 345.4,203.7 C346.8,200.7 347.5,200.1 348.6,200.0 C349.6,199.9 350.6,200.5 351.7,203.0 C352.8,205.4 354.1,209.5 355.2,214.6 C356.2,219.8 357.0,227.4 357.9,233.9 C358.8,240.5 359.4,244.2 360.3,254.0 C361.2,263.9 362.1,277.7 363.3,293.0 C364.5,308.3 365.5,325.6 367.5,345.9 C369.5,366.2 373.2,395.2 375.5,414.8 C377.8,434.3 379.7,448.8 381.5,463.0 C383.3,477.2 383.7,480.6 386.3,500.0 C388.8,519.4 393.9,558.0 396.7,579.3 C399.6,600.6 400.7,610.7 403.4,627.8 C406.1,644.9 409.3,665.2 412.9,681.9 C416.5,698.6 420.5,717.0 425.0,728.0 C429.5,739.1 435.5,742.6 440.0,748.1 C444.5,753.6 448.7,757.4 452.0,760.9 C455.3,764.4 457.0,766.5 460.0,769.0 C463.0,771.5 465.8,773.6 470.0,775.8 C474.2,778.0 480.0,780.6 485.0,782.4 C490.0,784.1 495.5,785.2 500.0,786.2 C504.5,787.2 505.7,787.4 512.0,788.3 C518.3,789.3 529.5,790.8 538.0,791.9 C546.5,792.9 554.3,794.2 563.0,794.9 C571.7,795.5 581.3,795.6 590.0,795.9 C598.7,796.3 606.5,796.9 615.0,796.8 C623.5,796.7 632.3,795.5 641.0,795.2 C649.7,795.0 658.3,795.2 667.0,795.2 C675.7,795.2 684.3,795.1 693.0,795.2 C701.7,795.3 710.3,795.7 719.0,796.0 C727.7,796.3 736.3,796.4 745.0,797.1 C753.7,797.8 761.8,799.0 771.0,800.1 C780.2,801.3 787.7,802.1 800.0,803.9 C812.3,805.6 833.7,809.0 845.0,810.7 C856.3,812.3 858.8,812.6 868.0,813.7 C877.2,814.8 887.5,815.5 900.0,817.2 C912.5,818.9 928.8,821.4 943.0,823.8 C957.2,826.2 969.3,828.8 985.0,831.5 C1000.7,834.2 1017.8,837.7 1037.0,840.1 C1056.2,842.6 1082.5,845.0 1100.0,846.4 C1117.5,847.9 1128.7,848.5 1142.0,848.6 C1155.3,848.7 1162.8,847.8 1180.0,847.2 C1197.2,846.6 1234.2,845.3 1245.0,844.9" stroke="#F14040"/>
<path d="M260.7,5.0 C260.9,10.0 260.9,22.9 261.9,35.0 C262.9,47.1 264.9,62.9 266.6,77.4 C268.3,91.9 270.1,107.1 272.2,122.0 C274.3,136.8 277.1,153.6 279.2,166.6 C281.2,179.6 282.8,189.6 284.7,200.0 C286.7,210.4 288.4,220.6 290.8,229.0 C293.2,237.4 296.9,245.7 299.2,250.2 C301.5,254.7 303.2,254.9 304.8,256.2 C306.3,257.5 306.5,258.2 308.5,258.0 C310.5,257.8 313.9,257.0 316.5,254.9 C319.1,252.8 321.5,249.8 324.1,245.6 C326.7,241.4 329.4,235.3 332.1,229.5 C334.7,223.7 337.9,215.9 340.1,210.9 C342.3,205.8 343.9,201.6 345.3,199.1 C346.7,196.6 347.4,196.0 348.5,196.0 C349.5,196.0 350.5,196.5 351.6,199.0 C352.7,201.5 354.1,205.6 355.2,210.9 C356.2,216.2 357.1,224.0 357.9,230.7 C358.8,237.3 359.4,241.0 360.3,251.0 C361.3,261.0 362.2,275.2 363.4,290.7 C364.6,306.2 365.5,323.4 367.6,344.0 C369.7,364.5 373.4,394.3 375.8,414.1 C378.2,434.0 380.1,448.7 381.9,463.0 C383.7,477.3 384.1,480.7 386.7,500.0 C389.2,519.3 394.3,557.9 397.2,578.9 C400.0,599.9 401.2,609.6 403.8,626.1 C406.5,642.7 409.6,661.9 413.1,678.3 C416.6,694.7 420.5,713.6 425.0,724.7 C429.5,735.8 435.5,739.3 440.0,744.8 C444.5,750.3 448.7,754.2 452.0,757.6 C455.3,761.1 457.0,763.3 460.0,765.8 C463.0,768.2 465.8,770.3 470.0,772.6 C474.2,774.8 480.0,777.4 485.0,779.2 C490.0,780.9 495.5,782.0 500.0,783.0 C504.5,784.0 505.7,784.2 512.0,785.2 C518.3,786.1 529.5,787.7 538.0,788.8 C546.5,789.9 554.3,791.1 563.0,791.8 C571.7,792.5 581.3,792.6 590.0,792.9 C598.7,793.3 606.5,793.9 615.0,793.8 C623.5,793.7 632.3,792.5 641.0,792.2 C649.7,791.9 658.3,792.2 667.0,792.2 C675.7,792.2 684.3,792.1 693.0,792.2 C701.7,792.3 710.3,792.7 719.0,793.0 C727.7,793.4 736.3,793.6 745.0,794.3 C753.7,795.0 761.8,796.3 771.0,797.5 C780.2,798.6 787.7,799.6 800.0,801.4 C812.3,803.2 833.7,806.8 845.0,808.5 C856.3,810.2 858.8,810.5 868.0,811.7 C877.2,812.9 887.5,813.8 900.0,815.6 C912.5,817.4 928.8,820.0 943.0,822.5 C957.2,825.0 969.3,827.8 985.0,830.6 C1000.7,833.4 1017.8,836.8 1037.0,839.3 C1056.2,841.9 1082.5,844.3 1100.0,845.8 C1117.5,847.2 1128.7,847.9 1142.0,848.0 C1155.3,848.2 1162.8,847.3 1180.0,846.8 C1197.2,846.2 1234.2,845.1 1245.0,844.7" stroke="#1A6FDF"/>
<path d="M262.4,5.0 C262.6,10.0 262.7,23.1 263.6,35.0 C264.6,46.9 266.5,62.4 268.1,76.6 C269.8,90.8 271.5,105.8 273.5,120.4 C275.5,135.0 278.2,151.4 280.2,164.2 C282.2,177.0 283.7,186.8 285.6,197.1 C287.5,207.3 289.1,217.3 291.4,225.5 C293.8,233.7 297.3,241.9 299.5,246.3 C301.8,250.8 303.4,251.0 304.9,252.2 C306.4,253.5 306.6,254.2 308.5,254.0 C310.4,253.8 313.9,252.9 316.5,250.8 C319.0,248.6 321.4,245.5 324.0,241.1 C326.6,236.7 329.3,230.3 332.0,224.3 C334.6,218.3 337.7,210.2 339.9,205.0 C342.1,199.7 343.7,195.3 345.1,192.7 C346.5,190.1 347.2,189.5 348.3,189.5 C349.3,189.5 350.3,190.0 351.5,192.5 C352.6,195.1 354.1,199.4 355.1,204.8 C356.2,210.3 357.1,218.3 358.0,225.3 C358.8,232.3 359.5,236.3 360.4,246.7 C361.3,257.1 362.3,271.7 363.5,287.5 C364.7,303.3 365.7,320.5 367.8,341.4 C369.9,362.4 373.8,393.0 376.2,413.3 C378.6,433.6 380.5,448.6 382.4,463.0 C384.2,477.4 384.6,480.8 387.2,500.0 C389.7,519.2 394.8,557.7 397.7,578.5 C400.5,599.2 401.6,608.3 404.2,624.4 C406.8,640.4 409.8,658.6 413.3,674.7 C416.7,690.9 420.5,710.2 425.0,721.4 C429.5,732.5 435.5,736.0 440.0,741.5 C444.5,747.0 448.7,750.9 452.0,754.4 C455.3,757.9 457.0,760.0 460.0,762.5 C463.0,765.0 465.8,767.1 470.0,769.4 C474.2,771.6 480.0,774.2 485.0,776.0 C490.0,777.7 495.5,778.9 500.0,779.9 C504.5,780.9 505.7,781.1 512.0,782.0 C518.3,783.0 529.5,784.5 538.0,785.7 C546.5,786.8 554.3,788.1 563.0,788.8 C571.7,789.5 581.3,789.6 590.0,789.9 C598.7,790.3 606.5,791.0 615.0,790.8 C623.5,790.7 632.3,789.4 641.0,789.2 C649.7,788.9 658.3,789.2 667.0,789.2 C675.7,789.2 684.3,789.0 693.0,789.2 C701.7,789.3 710.3,789.7 719.0,790.1 C727.7,790.5 736.3,790.8 745.0,791.5 C753.7,792.3 761.8,793.6 771.0,794.8 C780.2,796.0 787.7,797.0 800.0,798.9 C812.3,800.8 833.7,804.5 845.0,806.4 C856.3,808.2 858.8,808.5 868.0,809.7 C877.2,811.0 887.5,812.0 900.0,813.9 C912.5,815.9 928.8,818.7 943.0,821.3 C957.2,823.9 969.3,826.7 985.0,829.6 C1000.7,832.5 1017.8,836.0 1037.0,838.5 C1056.2,841.1 1082.5,843.6 1100.0,845.1 C1117.5,846.6 1128.7,847.2 1142.0,847.5 C1155.3,847.7 1162.8,846.9 1180.0,846.4 C1197.2,845.9 1234.2,844.9 1245.0,844.6" stroke="#7D4E4E"/>
<path d="M264.1,5.0 C264.3,10.0 264.4,23.3 265.3,35.0 C266.3,46.7 268.1,61.5 269.6,75.3 C271.2,89.1 272.9,103.5 274.8,117.7 C276.8,131.8 279.4,147.7 281.3,160.1 C283.2,172.4 284.7,182.0 286.5,191.9 C288.3,201.8 289.9,211.5 292.1,219.4 C294.3,227.4 297.7,235.3 299.9,239.6 C302.0,243.9 303.6,244.1 305.0,245.3 C306.5,246.5 306.6,247.2 308.5,247.0 C310.4,246.8 313.9,246.0 316.4,243.9 C319.0,241.9 321.4,239.0 324.0,234.8 C326.5,230.6 329.3,224.6 331.9,218.9 C334.5,213.2 337.7,205.6 339.8,200.6 C342.0,195.7 343.6,191.5 345.0,189.1 C346.4,186.6 347.1,186.0 348.2,186.0 C349.2,186.0 350.2,186.5 351.4,189.1 C352.5,191.7 354.0,196.0 355.1,201.5 C356.2,207.1 357.1,215.3 358.0,222.4 C358.9,229.6 359.5,233.7 360.4,244.2 C361.4,254.8 362.3,269.7 363.6,285.7 C364.8,301.6 365.8,318.8 367.9,340.0 C370.0,361.1 374.0,392.3 376.4,412.8 C378.9,433.3 380.8,448.5 382.6,463.0 C384.5,477.5 384.9,480.8 387.5,500.0 C390.0,519.2 395.2,557.6 398.0,578.2 C400.9,598.7 402.0,607.6 404.5,623.3 C407.1,639.0 410.0,656.4 413.4,672.4 C416.8,688.4 420.6,708.0 425.0,719.2 C429.4,730.3 435.5,733.8 440.0,739.4 C444.5,744.9 448.7,748.7 452.0,752.2 C455.3,755.7 457.0,757.9 460.0,760.4 C463.0,762.9 465.8,765.0 470.0,767.2 C474.2,769.5 480.0,772.1 485.0,773.9 C490.0,775.6 495.5,776.7 500.0,777.8 C504.5,778.8 505.7,779.0 512.0,779.9 C518.3,780.9 529.5,782.5 538.0,783.6 C546.5,784.7 554.3,786.1 563.0,786.8 C571.7,787.5 581.3,787.6 590.0,787.9 C598.7,788.3 606.5,789.0 615.0,788.9 C623.5,788.7 632.3,787.4 641.0,787.1 C649.7,786.9 658.3,787.1 667.0,787.1 C675.7,787.1 684.3,787.0 693.0,787.1 C701.7,787.3 710.3,787.7 719.0,788.2 C727.7,788.6 736.3,788.9 745.0,789.7 C753.7,790.5 761.8,791.8 771.0,793.1 C780.2,794.3 787.7,795.3 800.0,797.3 C812.3,799.2 833.7,803.0 845.0,804.9 C856.3,806.8 858.8,807.1 868.0,808.4 C877.2,809.7 887.5,810.8 900.0,812.8 C912.5,814.8 928.8,817.8 943.0,820.5 C957.2,823.2 969.3,826.1 985.0,829.0 C1000.7,831.9 1017.8,835.4 1037.0,838.0 C1056.2,840.6 1082.5,843.1 1100.0,844.7 C1117.5,846.2 1128.7,846.8 1142.0,847.1 C1155.3,847.3 1162.8,846.6 1180.0,846.2 C1197.2,845.7 1234.2,844.7 1245.0,844.4" stroke="#FB6501"/>
<path d="M265.8,5.0 C266.0,10.0 266.2,23.5 267.0,35.0 C267.9,46.5 269.7,60.8 271.2,74.1 C272.7,87.5 274.3,101.6 276.2,115.3 C278.0,129.1 280.5,144.5 282.4,156.5 C284.2,168.6 285.6,177.8 287.4,187.4 C289.1,197.1 290.6,206.5 292.7,214.2 C294.9,221.9 298.1,229.6 300.2,233.8 C302.3,238.0 303.8,238.2 305.2,239.4 C306.6,240.6 306.6,241.2 308.5,241.0 C310.4,240.8 313.8,240.1 316.4,238.2 C319.0,236.2 321.4,233.5 323.9,229.6 C326.5,225.7 329.2,220.1 331.9,214.8 C334.5,209.5 337.6,202.3 339.8,197.7 C342.0,193.0 343.6,189.1 344.9,186.8 C346.3,184.6 347.0,184.0 348.1,184.0 C349.2,184.0 350.2,184.5 351.3,187.1 C352.5,189.7 354.0,194.0 355.1,199.7 C356.2,205.3 357.1,213.7 358.0,220.8 C358.9,228.0 359.5,232.0 360.5,242.6 C361.4,253.2 362.4,268.3 363.6,284.4 C364.9,300.4 365.8,317.5 368.0,338.8 C370.1,360.2 374.1,391.7 376.6,412.4 C379.1,433.1 381.0,448.4 382.9,463.0 C384.7,477.6 385.1,480.9 387.7,500.0 C390.3,519.1 395.5,557.5 398.3,577.9 C401.2,598.2 402.3,606.8 404.8,622.2 C407.3,637.5 410.1,654.2 413.5,670.0 C416.9,685.8 420.6,705.7 425.0,716.9 C429.4,728.1 435.5,731.6 440.0,737.2 C444.5,742.7 448.7,746.5 452.0,750.0 C455.3,753.6 457.0,755.7 460.0,758.2 C463.0,760.7 465.8,762.8 470.0,765.1 C474.2,767.3 480.0,770.0 485.0,771.8 C490.0,773.5 495.5,774.6 500.0,775.6 C504.5,776.7 505.7,776.8 512.0,777.8 C518.3,778.8 529.5,780.4 538.0,781.5 C546.5,782.7 554.3,784.0 563.0,784.8 C571.7,785.5 581.3,785.6 590.0,785.9 C598.7,786.3 606.5,787.0 615.0,786.9 C623.5,786.7 632.3,785.4 641.0,785.1 C649.7,784.8 658.3,785.1 667.0,785.1 C675.7,785.1 684.3,784.9 693.0,785.1 C701.7,785.3 710.3,785.8 719.0,786.2 C727.7,786.7 736.3,787.0 745.0,787.9 C753.7,788.7 761.8,790.0 771.0,791.3 C780.2,792.6 787.7,793.6 800.0,795.6 C812.3,797.6 833.7,801.6 845.0,803.5 C856.3,805.4 858.8,805.7 868.0,807.1 C877.2,808.5 887.5,809.6 900.0,811.7 C912.5,813.8 928.8,816.9 943.0,819.7 C957.2,822.4 969.3,825.4 985.0,828.4 C1000.7,831.3 1017.8,834.8 1037.0,837.5 C1056.2,840.1 1082.5,842.7 1100.0,844.2 C1117.5,845.7 1128.7,846.4 1142.0,846.7 C1155.3,847.0 1162.8,846.3 1180.0,845.9 C1197.2,845.5 1234.2,844.6 1245.0,844.3" stroke="#00CBCC"/>
<path d="M267.6,5.0 C267.8,10.0 267.9,23.7 268.8,35.0 C269.6,46.3 271.3,60.0 272.7,73.0 C274.2,86.0 275.7,99.7 277.5,113.0 C279.3,126.3 281.7,141.3 283.5,153.0 C285.2,164.7 286.6,173.7 288.2,183.0 C289.9,192.3 291.3,201.5 293.4,209.0 C295.4,216.5 298.6,223.9 300.6,228.0 C302.5,232.1 304.0,232.2 305.3,233.4 C306.6,234.6 306.7,235.2 308.5,235.0 C310.3,234.8 313.8,234.0 316.4,232.0 C318.9,230.0 321.3,227.1 323.8,223.0 C326.4,218.9 329.1,213.0 331.7,207.4 C334.3,201.8 337.4,194.3 339.6,189.4 C341.7,184.5 343.3,180.4 344.7,178.0 C346.1,175.6 346.8,175.0 347.8,175.0 C348.9,175.0 349.9,175.4 351.1,178.1 C352.3,180.8 353.9,185.4 355.1,191.2 C356.2,197.1 357.1,205.8 358.0,213.4 C358.9,221.0 359.6,225.8 360.6,236.9 C361.5,248.1 362.5,263.8 363.8,280.3 C365.0,296.8 366.0,313.8 368.2,335.7 C370.4,357.5 374.5,390.2 377.0,411.4 C379.6,432.7 381.5,448.2 383.4,463.0 C385.3,477.8 385.7,480.9 388.3,500.0 C390.9,519.1 396.0,557.3 398.9,577.4 C401.7,597.4 402.8,605.5 405.2,620.4 C407.7,635.2 410.4,650.9 413.7,666.4 C417.0,682.0 420.6,702.4 425.0,713.6 C429.4,724.8 435.5,728.4 440.0,733.9 C444.5,739.4 448.7,743.3 452.0,746.8 C455.3,750.3 457.0,752.5 460.0,755.0 C463.0,757.5 465.8,759.6 470.0,761.9 C474.2,764.1 480.0,766.8 485.0,768.6 C490.0,770.3 495.5,771.5 500.0,772.5 C504.5,773.5 505.7,773.7 512.0,774.7 C518.3,775.7 529.5,777.3 538.0,778.4 C546.5,779.6 554.3,781.0 563.0,781.7 C571.7,782.5 581.3,782.6 590.0,782.9 C598.7,783.3 606.5,784.0 615.0,783.9 C623.5,783.8 632.3,782.4 641.0,782.1 C649.7,781.8 658.3,782.1 667.0,782.1 C675.7,782.1 684.3,781.9 693.0,782.1 C701.7,782.3 710.3,782.8 719.0,783.3 C727.7,783.8 736.3,784.2 745.0,785.1 C753.7,786.0 761.8,787.3 771.0,788.6 C780.2,790.0 787.7,791.0 800.0,793.1 C812.3,795.2 833.7,799.3 845.0,801.3 C856.3,803.3 858.8,803.7 868.0,805.2 C877.2,806.6 887.5,807.9 900.0,810.1 C912.5,812.3 928.8,815.5 943.0,818.4 C957.2,821.3 969.3,824.4 985.0,827.4 C1000.7,830.5 1017.8,834.0 1037.0,836.7 C1056.2,839.4 1082.5,842.0 1100.0,843.5 C1117.5,845.1 1128.7,845.8 1142.0,846.1 C1155.3,846.5 1162.8,845.9 1180.0,845.5 C1197.2,845.2 1234.2,844.4 1245.0,844.1" stroke="#8E8E00"/>
<path d="M269.3,5.0 C269.5,10.0 269.6,23.8 270.5,35.0 C271.3,46.2 272.9,59.6 274.3,72.4 C275.7,85.2 277.1,98.7 278.8,111.8 C280.5,125.0 282.8,139.7 284.5,151.2 C286.2,162.7 287.5,171.6 289.1,180.8 C290.7,190.0 292.1,199.0 294.0,206.4 C296.0,213.8 299.0,221.1 300.9,225.1 C302.8,229.1 304.2,229.3 305.5,230.4 C306.7,231.6 306.7,232.3 308.5,232.0 C310.3,231.7 313.8,230.9 316.3,228.8 C318.9,226.8 321.2,223.7 323.8,219.4 C326.3,215.1 329.0,208.9 331.6,203.0 C334.2,197.1 337.3,189.3 339.4,184.1 C341.6,179.0 343.2,174.7 344.5,172.2 C345.9,169.6 346.6,169.0 347.7,169.0 C348.7,169.0 349.8,169.4 351.0,172.2 C352.2,174.9 353.9,179.6 355.1,185.6 C356.2,191.7 357.1,200.6 358.1,208.5 C359.0,216.4 359.6,221.7 360.6,233.2 C361.6,244.7 362.6,260.9 363.9,277.6 C365.2,294.3 366.1,311.4 368.3,333.6 C370.6,355.8 374.8,389.2 377.3,410.8 C379.9,432.3 381.8,448.1 383.7,463.0 C385.6,477.9 386.1,481.0 388.6,500.0 C391.2,519.0 396.4,557.2 399.2,577.0 C402.0,596.9 403.1,604.7 405.5,619.2 C408.0,633.7 410.6,648.9 413.8,664.1 C417.0,679.2 420.6,698.8 425.0,709.8 C429.4,720.9 435.5,724.8 440.0,730.4 C444.5,736.0 448.7,739.8 452.0,743.4 C455.3,747.0 457.0,749.2 460.0,751.7 C463.0,754.3 465.8,756.4 470.0,758.7 C474.2,761.1 480.0,763.8 485.0,765.6 C490.0,767.4 495.5,768.5 500.0,769.5 C504.5,770.6 505.7,770.7 512.0,771.8 C518.3,772.9 529.5,774.7 538.0,776.0 C546.5,777.2 554.3,778.8 563.0,779.6 C571.7,780.4 581.3,780.5 590.0,780.9 C598.7,781.3 606.5,782.1 615.0,781.9 C623.5,781.8 632.3,780.4 641.0,780.1 C649.7,779.8 658.3,780.1 667.0,780.1 C675.7,780.1 684.3,779.9 693.0,780.1 C701.7,780.3 710.3,780.8 719.0,781.3 C727.7,781.9 736.3,782.3 745.0,783.2 C753.7,784.2 761.8,785.5 771.0,786.9 C780.2,788.2 787.7,789.3 800.0,791.4 C812.3,793.6 833.7,797.8 845.0,799.9 C856.3,801.9 858.8,802.3 868.0,803.8 C877.2,805.4 887.5,806.7 900.0,809.0 C912.5,811.3 928.8,814.6 943.0,817.6 C957.2,820.6 969.3,823.7 985.0,826.8 C1000.7,829.9 1017.8,833.4 1037.0,836.1 C1056.2,838.8 1082.5,841.5 1100.0,843.1 C1117.5,844.7 1128.7,845.4 1142.0,845.7 C1155.3,846.1 1162.8,845.6 1180.0,845.3 C1197.2,845.0 1234.2,844.2 1245.0,844.0" stroke="#37AD6B"/>
<path d="M271.0,5.0 C271.2,10.0 271.4,23.9 272.2,35.0 C273.0,46.1 274.5,59.2 275.8,71.9 C277.1,84.5 278.5,97.7 280.2,110.7 C281.8,123.6 284.0,138.1 285.6,149.5 C287.2,160.8 288.5,169.5 290.0,178.6 C291.5,187.6 292.8,196.5 294.7,203.8 C296.6,211.1 299.4,218.3 301.2,222.2 C303.1,226.2 304.4,226.3 305.6,227.4 C306.8,228.6 306.7,229.3 308.5,229.0 C310.3,228.7 313.8,227.9 316.3,225.8 C318.8,223.6 321.2,220.5 323.7,216.1 C326.3,211.7 328.9,205.3 331.5,199.3 C334.1,193.3 337.2,185.2 339.3,180.0 C341.5,174.7 343.0,170.3 344.4,167.7 C345.8,165.1 346.4,164.5 347.5,164.5 C348.6,164.5 349.6,164.9 350.9,167.7 C352.1,170.5 353.8,175.2 355.0,181.4 C356.2,187.6 357.1,196.7 358.1,204.8 C359.0,212.9 359.7,218.2 360.7,229.9 C361.6,241.6 362.7,258.2 364.0,275.1 C365.3,292.0 366.2,309.1 368.5,331.6 C370.7,354.1 375.0,388.2 377.7,410.1 C380.3,432.0 382.2,448.0 384.1,463.0 C386.0,478.0 386.5,481.1 389.1,500.0 C391.7,518.9 396.9,557.0 399.7,576.6 C402.5,596.2 403.6,603.5 405.9,617.5 C408.3,631.5 410.8,646.2 414.0,660.5 C417.1,674.7 420.7,692.4 425.0,703.0 C429.3,713.7 435.5,718.5 440.0,724.2 C444.5,730.0 448.7,733.8 452.0,737.5 C455.3,741.1 457.0,743.5 460.0,746.1 C463.0,748.8 465.8,751.0 470.0,753.4 C474.2,755.8 480.0,758.7 485.0,760.5 C490.0,762.4 495.5,763.5 500.0,764.6 C504.5,765.7 505.7,765.8 512.0,767.0 C518.3,768.3 529.5,770.4 538.0,771.9 C546.5,773.4 554.3,775.3 563.0,776.3 C571.7,777.3 581.3,777.5 590.0,777.9 C598.7,778.4 606.5,779.1 615.0,779.0 C623.5,778.8 632.3,777.4 641.0,777.0 C649.7,776.7 658.3,777.0 667.0,777.0 C675.7,777.0 684.3,776.8 693.0,777.0 C701.7,777.3 710.3,777.8 719.0,778.4 C727.7,779.0 736.3,779.5 745.0,780.5 C753.7,781.4 761.8,782.8 771.0,784.2 C780.2,785.6 787.7,786.7 800.0,789.0 C812.3,791.2 833.7,795.6 845.0,797.7 C856.3,799.9 858.8,800.3 868.0,801.9 C877.2,803.5 887.5,804.9 900.0,807.3 C912.5,809.8 928.8,813.3 943.0,816.4 C957.2,819.5 969.3,822.7 985.0,825.9 C1000.7,829.0 1017.8,832.6 1037.0,835.3 C1056.2,838.1 1082.5,840.8 1100.0,842.4 C1117.5,844.1 1128.7,844.8 1142.0,845.2 C1155.3,845.6 1162.8,845.1 1180.0,844.9 C1197.2,844.7 1234.2,844.0 1245.0,843.9" stroke="#F14040"/>
<path d="M272.7,5.0 C272.9,10.0 273.1,24.2 273.9,35.0 C274.7,45.8 276.1,57.8 277.3,69.6 C278.6,81.4 279.9,93.8 281.5,106.0 C283.1,118.1 285.1,131.8 286.7,142.4 C288.2,153.0 289.4,161.2 290.8,169.7 C292.3,178.2 293.6,186.5 295.3,193.3 C297.1,200.2 299.8,206.9 301.6,210.6 C303.3,214.3 304.6,214.5 305.7,215.5 C306.9,216.6 306.7,217.3 308.5,217.0 C310.3,216.7 313.7,215.9 316.2,213.8 C318.7,211.7 321.1,208.6 323.6,204.2 C326.1,199.8 328.7,193.5 331.3,187.6 C333.9,181.6 336.9,173.6 339.1,168.4 C341.2,163.1 342.7,158.8 344.1,156.2 C345.4,153.6 346.1,153.0 347.2,153.0 C348.3,153.0 349.3,153.3 350.6,156.3 C351.9,159.2 353.7,164.1 355.0,170.7 C356.2,177.2 357.2,186.7 358.1,195.4 C359.1,204.1 359.8,210.5 360.8,222.9 C361.8,235.4 362.8,252.7 364.2,270.2 C365.5,287.6 366.4,304.7 368.7,327.8 C371.1,350.9 375.5,386.4 378.2,408.9 C380.9,431.5 382.8,447.8 384.7,463.0 C386.6,478.2 387.1,481.2 389.7,500.0 C392.3,518.8 397.5,556.8 400.3,576.0 C403.1,595.3 404.1,602.1 406.4,615.6 C408.7,629.1 411.1,643.5 414.1,656.9 C417.2,670.4 420.7,686.1 425.0,696.3 C429.3,706.5 435.5,712.2 440.0,718.1 C444.5,723.9 448.7,727.8 452.0,731.5 C455.3,735.3 457.0,737.8 460.0,740.5 C463.0,743.3 465.8,745.5 470.0,748.0 C474.2,750.5 480.0,753.5 485.0,755.5 C490.0,757.4 495.5,758.5 500.0,759.6 C504.5,760.7 505.7,760.9 512.0,762.3 C518.3,763.6 529.5,766.1 538.0,767.9 C546.5,769.6 554.3,771.8 563.0,773.0 C571.7,774.1 581.3,774.4 590.0,774.9 C598.7,775.4 606.5,776.1 615.0,776.0 C623.5,775.8 632.3,774.3 641.0,774.0 C649.7,773.7 658.3,774.0 667.0,774.0 C675.7,774.0 684.3,773.8 693.0,774.0 C701.7,774.3 710.3,774.9 719.0,775.5 C727.7,776.1 736.3,776.7 745.0,777.7 C753.7,778.7 761.8,780.1 771.0,781.6 C780.2,783.0 787.7,784.1 800.0,786.5 C812.3,788.8 833.7,793.3 845.0,795.6 C856.3,797.8 858.8,798.2 868.0,799.9 C877.2,801.6 887.5,803.2 900.0,805.7 C912.5,808.2 928.8,811.9 943.0,815.1 C957.2,818.3 969.3,821.7 985.0,824.9 C1000.7,828.2 1017.8,831.7 1037.0,834.5 C1056.2,837.3 1082.5,840.1 1100.0,841.7 C1117.5,843.4 1128.7,844.1 1142.0,844.6 C1155.3,845.1 1162.8,844.7 1180.0,844.5 C1197.2,844.4 1234.2,843.8 1245.0,843.7" stroke="#1A6FDF"/>
<path d="M274.4,5.0 C274.6,10.0 274.9,24.6 275.6,35.0 C276.3,45.4 277.6,56.2 278.8,67.2 C279.9,78.2 281.2,89.8 282.6,101.1 C284.1,112.4 286.1,125.1 287.5,135.0 C289.0,144.9 290.1,152.5 291.5,160.4 C292.9,168.3 294.1,176.1 295.8,182.5 C297.5,188.8 300.2,195.1 301.9,198.6 C303.6,202.0 304.8,202.2 305.9,203.1 C307.0,204.1 306.8,204.7 308.5,204.5 C310.2,204.3 313.7,203.6 316.2,201.7 C318.7,199.8 321.0,197.0 323.5,193.1 C326.0,189.2 328.7,183.6 331.2,178.3 C333.8,173.0 336.8,165.8 338.9,161.2 C341.0,156.5 342.6,152.6 343.9,150.3 C345.3,148.1 345.9,147.4 347.0,147.5 C348.1,147.6 349.2,147.8 350.5,150.8 C351.8,153.8 353.7,158.8 355.0,165.5 C356.2,172.2 357.2,181.9 358.2,190.8 C359.1,199.8 359.8,206.4 360.8,219.1 C361.8,231.9 362.9,249.6 364.3,267.3 C365.6,285.1 366.5,302.0 368.9,325.5 C371.2,349.0 375.8,385.3 378.5,408.2 C381.2,431.1 383.2,447.7 385.1,463.0 C387.1,478.3 387.5,481.2 390.1,500.0 C392.7,518.8 398.0,556.6 400.8,575.6 C403.6,594.6 404.6,600.9 406.8,613.9 C409.1,626.8 411.3,640.7 414.3,653.4 C417.3,666.0 420.7,679.8 425.0,689.6 C429.3,699.3 435.5,705.9 440.0,711.9 C444.5,717.9 448.7,721.8 452.0,725.6 C455.3,729.5 457.0,732.1 460.0,734.9 C463.0,737.7 465.8,740.0 470.0,742.6 C474.2,745.2 480.0,748.4 485.0,750.4 C490.0,752.4 495.5,753.5 500.0,754.7 C504.5,755.8 505.7,756.0 512.0,757.5 C518.3,759.0 529.5,761.8 538.0,763.8 C546.5,765.8 554.3,768.3 563.0,769.6 C571.7,771.0 581.3,771.4 590.0,771.9 C598.7,772.5 606.5,773.2 615.0,773.0 C623.5,772.9 632.3,771.3 641.0,771.0 C649.7,770.6 658.3,771.0 667.0,771.0 C675.7,771.0 684.3,770.7 693.0,771.0 C701.7,771.3 710.3,771.9 719.0,772.6 C727.7,773.2 736.3,773.9 745.0,774.9 C753.7,776.0 761.8,777.4 771.0,778.9 C780.2,780.4 787.7,781.6 800.0,784.0 C812.3,786.4 833.7,791.1 845.0,793.4 C856.3,795.7 858.8,796.2 868.0,797.9 C877.2,799.7 887.5,801.4 900.0,804.1 C912.5,806.7 928.8,810.6 943.0,813.9 C957.2,817.2 969.3,820.7 985.0,824.0 C1000.7,827.3 1017.8,830.9 1037.0,833.7 C1056.2,836.6 1082.5,839.4 1100.0,841.1 C1117.5,842.8 1128.7,843.5 1142.0,844.0 C1155.3,844.5 1162.8,844.2 1180.0,844.1 C1197.2,844.1 1234.2,843.6 1245.0,843.5" stroke="#7D4E4E"/>
<path d="M276.1,5.0 C276.3,10.0 276.6,25.4 277.3,35.0 C277.9,44.6 278.9,53.1 280.0,62.5 C281.0,72.0 282.0,81.9 283.4,91.6 C284.7,101.2 286.5,112.1 287.9,120.5 C289.3,129.0 290.4,135.5 291.7,142.3 C293.1,149.1 294.0,155.7 295.8,161.2 C297.5,166.6 300.5,172.0 302.3,174.9 C304.0,177.9 305.3,178.0 306.3,178.8 C307.4,179.7 306.9,180.1 308.5,180.0 C310.1,179.9 313.7,179.3 316.2,178.0 C318.6,176.7 320.9,174.7 323.4,172.0 C325.9,169.3 328.5,165.3 331.1,161.6 C333.6,157.9 336.6,152.9 338.7,149.6 C340.9,146.3 342.4,143.6 343.7,142.0 C345.1,140.4 345.7,139.8 346.8,140.0 C347.9,140.2 349.0,140.3 350.3,143.3 C351.7,146.4 353.6,151.6 354.9,158.5 C356.2,165.4 357.2,175.9 358.2,184.7 C359.2,193.5 359.9,198.6 360.9,211.3 C362.0,223.9 363.1,242.7 364.5,260.7 C365.9,278.8 366.8,295.4 369.3,319.6 C371.8,343.8 376.7,382.2 379.5,406.1 C382.4,430.0 384.4,447.3 386.4,463.0 C388.5,478.7 389.0,481.5 391.7,500.0 C394.4,518.5 399.8,556.1 402.6,573.9 C405.4,591.8 406.4,596.4 408.5,607.0 C410.6,617.7 412.3,627.7 415.1,637.9 C417.8,648.1 420.8,659.0 425.0,668.0 C429.2,677.0 435.5,685.4 440.0,691.7 C444.5,698.1 448.7,701.9 452.0,706.0 C455.3,710.0 457.0,712.9 460.0,716.0 C463.0,719.0 465.8,721.4 470.0,724.2 C474.2,727.0 480.0,730.6 485.0,732.7 C490.0,734.9 495.5,735.9 500.0,737.2 C504.5,738.5 505.7,738.6 512.0,740.5 C518.3,742.3 529.5,745.9 538.0,748.4 C546.5,751.0 554.3,754.2 563.0,755.9 C571.7,757.7 581.3,758.2 590.0,758.9 C598.7,759.6 606.5,760.3 615.0,760.1 C623.5,760.0 632.3,758.2 641.0,757.9 C649.7,757.5 658.3,757.9 667.0,757.9 C675.7,757.9 684.3,757.5 693.0,757.9 C701.7,758.2 710.3,759.0 719.0,759.9 C727.7,760.7 736.3,761.7 745.0,763.0 C753.7,764.2 761.8,765.7 771.0,767.4 C780.2,769.1 787.7,770.4 800.0,773.2 C812.3,776.0 833.7,781.3 845.0,784.0 C856.3,786.7 858.8,787.3 868.0,789.4 C877.2,791.6 887.5,793.7 900.0,796.9 C912.5,800.1 928.8,804.7 943.0,808.5 C957.2,812.4 969.3,816.3 985.0,820.0 C1000.7,823.6 1017.8,827.2 1037.0,830.3 C1056.2,833.3 1082.5,836.3 1100.0,838.2 C1117.5,840.0 1128.7,840.8 1142.0,841.5 C1155.3,842.3 1162.8,842.3 1180.0,842.5 C1197.2,842.7 1234.2,842.7 1245.0,842.7" stroke="#8E8E00"/>
<path d="M277.8,5.0 C278.0,10.0 278.3,25.5 279.0,35.0 C279.7,44.5 280.8,52.8 281.9,62.0 C283.0,71.2 284.2,80.9 285.6,90.4 C287.1,99.8 289.1,110.5 290.6,118.8 C292.2,127.1 293.4,133.5 294.9,140.1 C296.3,146.7 297.4,153.2 299.3,158.5 C301.3,163.9 304.6,169.1 306.6,172.0 C308.6,174.9 310.0,175.0 311.2,175.9 C312.3,176.7 312.0,177.1 313.5,177.0 C315.0,176.9 318.0,176.4 320.1,175.1 C322.3,173.8 324.3,171.9 326.5,169.2 C328.6,166.5 330.9,162.7 333.1,159.1 C335.3,155.4 337.9,150.5 339.8,147.4 C341.6,144.2 342.9,141.5 344.1,139.9 C345.2,138.4 345.7,137.8 346.7,138.0 C347.8,138.2 348.9,138.3 350.3,141.4 C351.7,144.5 353.6,149.7 354.9,156.6 C356.2,163.6 357.2,173.8 358.2,183.1 C359.2,192.3 359.9,198.9 360.9,212.0 C362.0,225.1 363.1,243.7 364.5,261.9 C365.8,280.0 366.7,296.9 369.2,321.0 C371.6,345.1 376.4,383.0 379.2,406.7 C382.0,430.3 384.0,447.4 386.0,463.0 C388.0,478.6 388.5,481.4 391.1,500.0 C393.8,518.6 399.1,556.3 401.8,574.6 C404.6,592.9 405.6,598.3 407.8,610.0 C409.9,621.8 411.9,633.4 414.7,645.0 C417.6,656.6 420.8,670.0 425.0,679.6 C429.2,689.2 435.5,696.3 440.0,702.4 C444.5,708.6 448.7,712.4 452.0,716.3 C455.3,720.2 457.0,723.0 460.0,725.9 C463.0,728.8 465.8,731.1 470.0,733.8 C474.2,736.4 480.0,739.7 485.0,741.8 C490.0,743.8 495.5,744.9 500.0,746.1 C504.5,747.3 505.7,747.5 512.0,749.1 C518.3,750.7 529.5,753.8 538.0,756.0 C546.5,758.2 554.3,760.9 563.0,762.4 C571.7,763.9 581.3,764.3 590.0,764.9 C598.7,765.5 606.5,766.2 615.0,766.1 C623.5,765.9 632.3,764.3 641.0,763.9 C649.7,763.6 658.3,763.9 667.0,763.9 C675.7,763.9 684.3,763.6 693.0,763.9 C701.7,764.2 710.3,765.0 719.0,765.7 C727.7,766.5 736.3,767.3 745.0,768.5 C753.7,769.7 761.8,771.1 771.0,772.7 C780.2,774.4 787.7,775.6 800.0,778.2 C812.3,780.8 833.7,785.8 845.0,788.4 C856.3,790.9 858.8,791.4 868.0,793.4 C877.2,795.3 887.5,797.3 900.0,800.2 C912.5,803.2 928.8,807.4 943.0,811.0 C957.2,814.6 969.3,818.4 985.0,821.8 C1000.7,825.3 1017.8,828.9 1037.0,831.9 C1056.2,834.8 1082.5,837.7 1100.0,839.5 C1117.5,841.3 1128.7,842.1 1142.0,842.7 C1155.3,843.3 1162.8,843.2 1180.0,843.3 C1197.2,843.3 1234.2,843.1 1245.0,843.1" stroke="#6FB802"/>
<path d="M280.6,5.0 C280.8,10.0 281.3,26.1 281.8,35.0 C282.3,43.9 283.0,50.2 283.8,58.2 C284.6,66.1 285.4,74.4 286.5,82.6 C287.6,90.7 289.1,99.9 290.3,107.0 C291.4,114.1 292.5,119.6 293.6,125.3 C294.7,131.0 295.4,136.6 297.0,141.1 C298.6,145.7 301.5,150.2 303.1,152.7 C304.7,155.2 305.9,155.3 306.8,156.0 C307.7,156.7 306.9,157.4 308.4,157.0 C309.9,156.6 313.4,155.9 315.8,153.8 C318.2,151.6 320.4,148.5 322.8,144.0 C325.2,139.6 327.7,133.2 330.2,127.2 C332.7,121.1 335.6,113.0 337.6,107.8 C339.6,102.5 341.1,98.0 342.4,95.4 C343.7,92.8 344.2,92.1 345.4,92.2 C346.5,92.3 347.7,92.2 349.3,95.8 C350.8,99.4 353.2,105.5 354.7,113.7 C356.3,122.0 357.3,133.6 358.4,145.5 C359.5,157.3 360.2,168.8 361.3,185.0 C362.5,201.3 363.7,222.7 365.2,242.9 C366.7,263.2 367.5,280.2 370.1,306.8 C372.8,333.4 378.2,376.3 381.2,402.4 C384.2,428.4 386.2,446.7 388.2,463.0 C390.2,479.3 390.7,481.7 393.3,500.0 C395.9,518.3 401.2,555.4 403.9,572.7 C406.6,590.0 407.5,593.5 409.4,603.7 C411.2,613.9 412.7,624.1 415.3,633.7 C417.9,643.3 420.9,652.7 425.0,661.3 C429.1,669.9 435.5,679.1 440.0,685.6 C444.5,692.0 448.7,695.9 452.0,700.0 C455.3,704.1 457.0,707.1 460.0,710.3 C463.0,713.4 465.8,715.8 470.0,718.7 C474.2,721.6 480.0,725.2 485.0,727.5 C490.0,729.7 495.5,730.7 500.0,732.0 C504.5,733.4 505.7,733.4 512.0,735.4 C518.3,737.4 529.5,741.3 538.0,744.0 C546.5,746.8 554.3,750.3 563.0,752.2 C571.7,754.0 581.3,754.7 590.0,755.4 C598.7,756.2 606.5,756.9 615.0,756.7 C623.5,756.5 632.3,754.7 641.0,754.3 C649.7,753.9 658.3,754.3 667.0,754.3 C675.7,754.3 684.3,754.0 693.0,754.3 C701.7,754.7 710.3,755.6 719.0,756.5 C727.7,757.4 736.3,758.4 745.0,759.7 C753.7,761.0 761.8,762.6 771.0,764.4 C780.2,766.1 787.7,767.4 800.0,770.3 C812.3,773.1 833.7,778.7 845.0,781.5 C856.3,784.3 858.8,784.9 868.0,787.1 C877.2,789.4 887.5,791.7 900.0,795.0 C912.5,798.3 928.8,803.1 943.0,807.1 C957.2,811.1 969.3,815.2 985.0,818.9 C1000.7,822.6 1017.8,826.2 1037.0,829.3 C1056.2,832.4 1082.5,835.5 1100.0,837.4 C1117.5,839.3 1128.7,840.1 1142.0,840.9 C1155.3,841.6 1162.8,841.8 1180.0,842.1 C1197.2,842.3 1234.2,842.5 1245.0,842.5" stroke="#FB6501"/>
<path d="M283.0,5.0 C283.2,10.0 283.7,26.8 284.2,35.0 C284.7,43.2 285.2,47.5 285.8,54.0 C286.5,60.5 287.2,67.3 288.2,74.0 C289.1,80.7 290.5,88.2 291.7,94.0 C292.8,99.8 293.8,104.3 294.9,109.0 C295.9,113.7 296.5,118.2 298.1,122.0 C299.6,125.8 302.6,129.5 304.3,131.5 C305.9,133.5 307.1,133.6 308.0,134.2 C308.8,134.8 307.9,135.3 309.3,135.0 C310.7,134.7 314.1,134.2 316.5,132.6 C318.8,131.0 321.0,128.6 323.3,125.3 C325.6,122.0 328.1,117.2 330.5,112.7 C332.9,108.2 335.7,102.1 337.6,98.1 C339.6,94.2 341.1,90.9 342.3,88.9 C343.6,87.0 344.0,86.3 345.2,86.5 C346.3,86.7 347.5,86.5 349.1,90.2 C350.7,93.8 353.2,100.0 354.7,108.4 C356.3,116.8 357.4,128.8 358.5,140.8 C359.6,152.8 360.3,163.9 361.4,180.4 C362.6,196.8 363.8,218.7 365.3,239.3 C366.8,259.8 367.6,276.7 370.4,303.7 C373.1,330.7 378.6,374.7 381.7,401.3 C384.8,427.8 386.8,446.5 388.8,463.0 C390.9,479.5 391.4,481.8 394.0,500.0 C396.7,518.2 402.0,555.1 404.7,571.9 C407.4,588.7 408.3,591.5 410.1,600.7 C411.9,609.9 413.1,618.7 415.6,627.2 C418.1,635.7 420.9,643.4 425.0,651.7 C429.1,659.9 435.5,670.0 440.0,676.6 C444.5,683.2 448.7,687.1 452.0,691.3 C455.3,695.5 457.0,698.7 460.0,701.9 C463.0,705.1 465.8,707.6 470.0,710.6 C474.2,713.6 480.0,717.4 485.0,719.7 C490.0,722.0 495.5,723.0 500.0,724.4 C504.5,725.8 505.7,725.8 512.0,728.0 C518.3,730.2 529.5,734.3 538.0,737.4 C546.5,740.4 554.3,744.2 563.0,746.3 C571.7,748.4 581.3,749.1 590.0,749.9 C598.7,750.7 606.5,751.4 615.0,751.2 C623.5,751.0 632.3,749.2 641.0,748.8 C649.7,748.4 658.3,748.8 667.0,748.8 C675.7,748.8 684.3,748.4 693.0,748.8 C701.7,749.2 710.3,750.1 719.0,751.1 C727.7,752.1 736.3,753.3 745.0,754.7 C753.7,756.1 761.8,757.6 771.0,759.5 C780.2,761.3 787.7,762.7 800.0,765.7 C812.3,768.7 833.7,774.6 845.0,777.6 C856.3,780.5 858.8,781.1 868.0,783.5 C877.2,785.9 887.5,788.4 900.0,792.0 C912.5,795.5 928.8,800.6 943.0,804.8 C957.2,809.0 969.3,813.3 985.0,817.2 C1000.7,821.0 1017.8,824.7 1037.0,827.8 C1056.2,831.0 1082.5,834.1 1100.0,836.1 C1117.5,838.1 1128.7,838.9 1142.0,839.8 C1155.3,840.7 1162.8,841.0 1180.0,841.4 C1197.2,841.8 1234.2,842.1 1245.0,842.2" stroke="#1A6FDF"/>
<path d="M288.2,5.0 C288.4,10.0 288.9,27.2 289.4,35.0 C289.9,42.8 290.5,46.2 291.2,52.0 C292.0,57.8 292.8,63.9 293.9,69.9 C295.1,75.9 296.8,82.6 298.1,87.8 C299.4,93.0 300.7,97.1 302.0,101.2 C303.3,105.4 303.9,109.5 305.9,112.9 C307.8,116.2 311.6,119.5 313.6,121.4 C315.7,123.2 317.2,123.3 318.2,123.8 C319.2,124.3 318.6,126.0 319.7,124.5 C320.8,123.0 323.1,118.5 324.8,114.8 C326.4,111.1 328.1,106.3 329.8,102.4 C331.5,98.5 333.2,94.4 334.9,91.3 C336.6,88.3 338.6,85.6 339.9,83.8 C341.3,82.1 342.1,81.6 343.0,81.0 C343.8,80.4 344.0,79.8 345.0,80.3 C346.0,80.8 347.4,80.3 349.0,84.0 C350.6,87.7 353.1,94.0 354.7,102.6 C356.3,111.2 357.4,123.6 358.5,135.7 C359.6,147.8 360.3,158.4 361.5,175.0 C362.7,191.6 364.0,214.2 365.5,235.0 C367.0,255.8 367.8,272.5 370.6,300.0 C373.4,327.5 379.1,372.8 382.3,400.0 C385.5,427.2 387.5,446.3 389.6,463.0 C391.7,479.7 392.2,482.0 394.9,500.0 C397.6,518.0 403.0,554.8 405.7,571.0 C408.4,587.2 409.3,589.0 411.0,597.0 C412.7,605.0 413.7,612.0 416.0,619.0 C418.3,626.0 421.0,631.4 425.0,639.0 C429.0,646.7 435.5,658.0 440.0,664.9 C444.5,671.7 448.7,675.6 452.0,679.9 C455.3,684.3 457.0,687.6 460.0,691.0 C463.0,694.4 465.8,697.0 470.0,700.1 C474.2,703.2 480.0,707.2 485.0,709.6 C490.0,712.0 495.5,713.0 500.0,714.5 C504.5,716.0 505.7,716.0 512.0,718.4 C518.3,720.8 529.5,725.5 538.0,728.9 C546.5,732.3 554.3,736.6 563.0,738.9 C571.7,741.3 581.3,742.1 590.0,743.0 C598.7,743.9 606.5,744.6 615.0,744.4 C623.5,744.2 632.3,742.2 641.0,741.8 C649.7,741.4 658.3,741.8 667.0,741.8 C675.7,741.8 684.3,741.4 693.0,741.8 C701.7,742.2 710.3,743.3 719.0,744.4 C727.7,745.5 736.3,746.8 745.0,748.3 C753.7,749.8 761.8,751.4 771.0,753.4 C780.2,755.4 787.7,756.8 800.0,760.0 C812.3,763.2 833.7,769.4 845.0,772.6 C856.3,775.8 858.8,776.4 868.0,779.0 C877.2,781.6 887.5,784.4 900.0,788.2 C912.5,792.0 928.8,797.5 943.0,802.0 C957.2,806.5 969.3,811.0 985.0,815.0 C1000.7,819.0 1017.8,822.7 1037.0,826.0 C1056.2,829.3 1082.5,832.5 1100.0,834.6 C1117.5,836.7 1128.7,837.5 1142.0,838.5 C1155.3,839.5 1162.8,840.0 1180.0,840.5 C1197.2,841.0 1234.2,841.6 1245.0,841.8" stroke="#515151"/>
</g>
<rect x="208.2" y="31.5" width="7.8" height="840" fill="#000"/>
<rect x="195" y="31.6" width="1053.5" height="6.8" fill="#000"/>
<rect x="1242.5" y="32" width="6" height="852" fill="#000"/>
<rect x="204" y="865.5" width="1044" height="5" fill="#000"/>
<rect x="195" y="159.7" width="17" height="7" fill="#000"/>
<rect x="195" y="287.9" width="17" height="7" fill="#000"/>
<rect x="195" y="416.0" width="17" height="7" fill="#000"/>
<rect x="195" y="544.2" width="17" height="7" fill="#000"/>
<rect x="195" y="672.3" width="17" height="7" fill="#000"/>
<rect x="195" y="800.5" width="17" height="7" fill="#000"/>
<rect x="203.5" y="95.6" width="8.5" height="7" fill="#000"/>
<rect x="203.5" y="223.8" width="8.5" height="7" fill="#000"/>
<rect x="203.5" y="351.9" width="8.5" height="7" fill="#000"/>
<rect x="203.5" y="480.1" width="8.5" height="7" fill="#000"/>
<rect x="203.5" y="608.3" width="8.5" height="7" fill="#000"/>
<rect x="203.5" y="736.4" width="8.5" height="7" fill="#000"/>
<rect x="203.5" y="864.6" width="8.5" height="7" fill="#000"/>
<rect x="712" y="866" width="6" height="18" fill="#000"/>
<rect x="446.8" y="866" width="6" height="10" fill="#000"/>
<rect x="977.2" y="866" width="6" height="10" fill="#000"/>
<text transform="matrix(1.0128,0,0,1.0387,124.41,47.80)" style="font-family:'Liberation Sans',sans-serif;font-weight:bold;font-size:42.5px">1.2</text>
<text transform="matrix(0.9945,0,0,1.0248,124.67,175.79)" style="font-family:'Liberation Sans',sans-serif;font-weight:bold;font-size:42.5px">1.0</text>
<text transform="matrix(1.0000,0,0,1.0281,123.85,304.00)" style="font-family:'Liberation Sans',sans-serif;font-weight:bold;font-size:42.5px">0.8</text>
<text transform="matrix(1.0000,0,0,1.0281,124.10,432.16)" style="font-family:'Liberation Sans',sans-serif;font-weight:bold;font-size:42.5px">0.6</text>
<text transform="matrix(1.0000,0,0,1.0281,122.85,560.32)" style="font-family:'Liberation Sans',sans-serif;font-weight:bold;font-size:42.5px">0.4</text>
<text transform="matrix(1.0000,0,0,1.0281,124.35,688.48)" style="font-family:'Liberation Sans',sans-serif;font-weight:bold;font-size:42.5px">0.2</text>
<text transform="matrix(0.9964,0,0,1.0314,124.36,816.78)" style="font-family:'Liberation Sans',sans-serif;font-weight:bold;font-size:42.5px">0.0</text>
<text transform="matrix(1.0204,0,0,1.0744,678.83,929.86)" style="font-family:'Liberation Sans',sans-serif;font-weight:bold;font-size:42.5px">400</text>
<text transform="matrix(1.0007,0,0,1.0645,1209.50,929.57)" style="font-family:'Liberation Sans',sans-serif;font-weight:bold;font-size:42.5px">600</text>
<text transform="matrix(1.0269,0,0,1.0507,429.20,118.97)" style="font-family:'Liberation Sans',sans-serif;font-weight:bold;font-size:50px">260 nm</text>
<text transform="matrix(1.0279,0,0,1.0451,603.53,722.78)" style="font-family:'Liberation Sans',sans-serif;font-weight:bold;font-size:50px">400 nm</text>
<text transform="matrix(1.0169,0,0,1.0169,1103.47,101.59)" style="font-family:'Liberation Sans',sans-serif;font-weight:bold;font-size:50px">CO</text>
<text transform="matrix(1.0250,0,0,1.0457,1179.61,114.90)" style="font-family:'Liberation Sans',sans-serif;font-weight:bold;font-size:50px">2</text>
<text transform="matrix(0.9882,0,0,1.0571,513.70,1029.40)" style="font-family:'Liberation Sans',sans-serif;font-weight:bold;font-size:56px">Wavelength (nm)</text>
<text transform="translate(62,677.78) rotate(-90) scale(0.9863,1.0519)" style="font-family:'Liberation Sans',sans-serif;font-weight:bold;font-size:56px">Absorbance (a. u.)</text>
<rect x="399.6" y="112" width="3" height="76" fill="#111"/>
<polygon points="401.1,95.6 394.6,120 407.6,120" fill="#111"/>
<rect x="812.8" y="645" width="3" height="75" fill="#111"/>
<polygon points="814.3,626.2 807.3,651 821.3,651" fill="#111"/>
</svg>
</body></html>
